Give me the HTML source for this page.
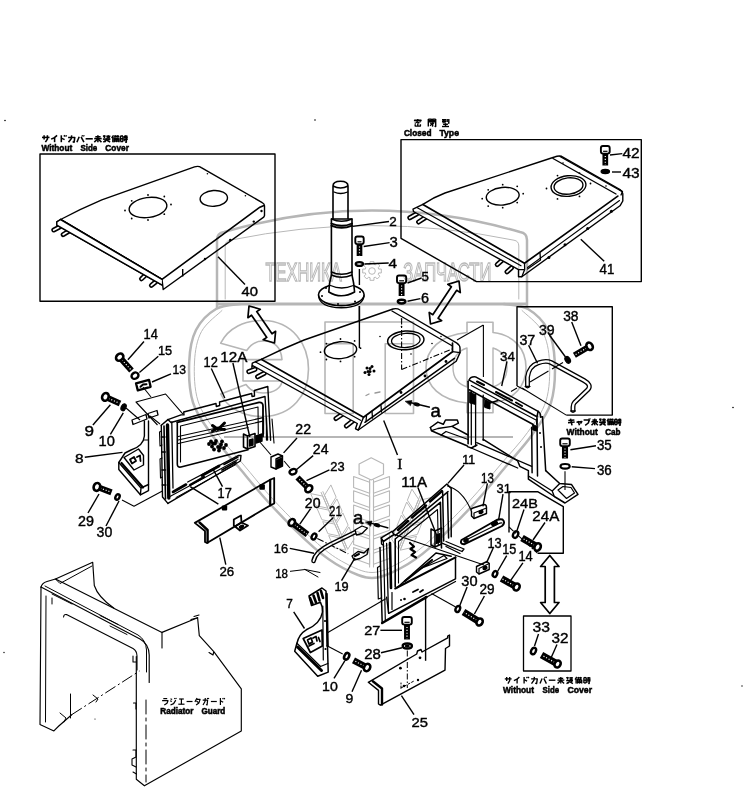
<!DOCTYPE html>
<html><head><meta charset="utf-8"><title>Parts diagram</title>
<style>html,body{margin:0;padding:0;background:#fff}svg{display:block;will-change:transform}text{font-family:"Liberation Sans",sans-serif;fill:#000}</style>
</head><body>
<svg width="743" height="788" viewBox="0 0 743 788">
<rect width="743" height="788" fill="#fff"/>
<polygon points="40.0,154.0 275.0,154.0 275.0,301.3 40.0,301.3" fill="none" stroke="#000" stroke-width="1.4" stroke-linejoin="round"/>
<polygon points="401.0,238.3 401.0,139.6 641.3,139.6 641.3,281.6 476.5,281.6" fill="none" stroke="#000" stroke-width="1.4" stroke-linejoin="round"/>
<polyline points="517.0,386.0 517.0,306.7 612.3,306.7 612.3,415.1 566.3,415.1" fill="none" stroke="#000" stroke-width="1.4" stroke-linejoin="round"/>
<polyline points="509.0,532.6 509.0,491.8 538.0,491.8 563.3,506.7 563.3,553.2 538.0,553.2" fill="none" stroke="#000" stroke-width="1.4" stroke-linejoin="round"/>
<polygon points="523.5,616.0 571.0,616.0 571.0,671.0 523.5,671.0" fill="none" stroke="#000" stroke-width="1.3" stroke-linejoin="round"/>
<line x1="59.5" y1="227.0" x2="53.8" y2="230.0" stroke="#000" stroke-width="5" stroke-linecap="round"/>
<line x1="59.5" y1="227.0" x2="53.8" y2="230.0" stroke="#fff" stroke-width="1.8" stroke-linecap="round"/>
<line x1="68.2" y1="231.6" x2="63.2" y2="234.6" stroke="#000" stroke-width="5" stroke-linecap="round"/>
<line x1="68.2" y1="231.6" x2="63.2" y2="234.6" stroke="#fff" stroke-width="1.8" stroke-linecap="round"/>
<line x1="145.0" y1="275.5" x2="141.5" y2="278.8" stroke="#000" stroke-width="5" stroke-linecap="round"/>
<line x1="145.0" y1="275.5" x2="141.5" y2="278.8" stroke="#fff" stroke-width="1.8" stroke-linecap="round"/>
<line x1="155.5" y1="282.0" x2="151.4" y2="285.4" stroke="#000" stroke-width="5" stroke-linecap="round"/>
<line x1="155.5" y1="282.0" x2="151.4" y2="285.4" stroke="#fff" stroke-width="1.8" stroke-linecap="round"/>
<path d="M60.6,219.5 Q80,209 101.8,199.8 L194.5,166.9 Q198.5,165.6 201.3,167.6 L262.2,202.6 Q264.5,203.8 264.5,205.7 L264.5,215.6 L263.7,217.1 L163.2,289.5 L162,279.4 Z" fill="#fff" stroke="#000" stroke-width="1.4" stroke-linejoin="round" stroke-linecap="round" />
<path d="M60.6,219.5 L162,279.4 L259.9,207.2 L264,205.5" fill="none" stroke="#000" stroke-width="1.6" stroke-linejoin="round" stroke-linecap="round" />
<path d="M60.6,219.5 L56.8,221.9 L56.8,225.2 L161.7,284.8" fill="none" stroke="#000" stroke-width="1.4" stroke-linejoin="round" stroke-linecap="round" />
<path d="M57,222.5 L60.6,219.5 L162,279.4 L161.7,284.8 L56.8,225.2 Z" fill="#fff" stroke="#000" stroke-width="0.1" stroke-linejoin="round" stroke-linecap="round" />
<path d="M60.6,219.5 L56.8,221.9 L56.8,225.2 L161.7,284.8" fill="none" stroke="#000" stroke-width="1.4" stroke-linejoin="round" stroke-linecap="round" />
<path d="M60.6,219.5 L162,279.4" fill="none" stroke="#000" stroke-width="1.6" stroke-linejoin="round" stroke-linecap="round" />
<line x1="182.7" y1="269.0" x2="182.7" y2="276.6" stroke="#000" stroke-width="1.4"/>
<ellipse cx="148.0" cy="207.5" rx="19.0" ry="10.0" fill="none" stroke="#000" stroke-width="1.4" transform="rotate(-8 148.0 207.5)"/>
<circle cx="171.0" cy="204.5" r="0.9" fill="#000"/>
<circle cx="164.3" cy="214.2" r="0.9" fill="#000"/>
<circle cx="148.0" cy="220.0" r="0.9" fill="#000"/>
<circle cx="131.7" cy="218.5" r="0.9" fill="#000"/>
<circle cx="125.0" cy="210.5" r="0.9" fill="#000"/>
<circle cx="131.7" cy="200.8" r="0.9" fill="#000"/>
<circle cx="148.0" cy="195.0" r="0.9" fill="#000"/>
<circle cx="164.3" cy="196.5" r="0.9" fill="#000"/>
<ellipse cx="213.8" cy="198.4" rx="13.7" ry="7.9" fill="none" stroke="#000" stroke-width="1.4" transform="rotate(-4 213.8 198.4)"/>
<circle cx="207.4" cy="173.7" r="0.8" fill="#000"/>
<circle cx="245.4" cy="195.8" r="0.8" fill="#000"/>
<circle cx="261.5" cy="211.0" r="1.2" fill="#000"/>
<circle cx="253.8" cy="221.6" r="1.2" fill="#000"/>
<circle cx="230.2" cy="239.9" r="1.2" fill="#000"/>
<circle cx="205.0" cy="259.0" r="1.2" fill="#000"/>
<line x1="218.0" y1="256.7" x2="245.0" y2="284.5" stroke="#000" stroke-width="1.4"/>
<text x="241.6" y="295.5" font-size="13.2" textLength="16.4" lengthAdjust="spacingAndGlyphs" stroke="#000" stroke-width="0.4">40</text>
<polyline points="42.0,137.4 49.5,137.4" fill="none" stroke="#000" stroke-width="1.55" stroke-linejoin="round"/>
<polyline points="44.1,135.3 44.1,139.6" fill="none" stroke="#000" stroke-width="1.55" stroke-linejoin="round"/>
<polyline points="47.4,135.3 47.4,139.1 45.4,142.2" fill="none" stroke="#000" stroke-width="1.55" stroke-linejoin="round"/>
<polyline points="57.1,135.3 54.4,137.7 51.1,139.1" fill="none" stroke="#000" stroke-width="1.55" stroke-linejoin="round"/>
<polyline points="54.6,137.6 54.6,142.2" fill="none" stroke="#000" stroke-width="1.55" stroke-linejoin="round"/>
<polyline points="61.3,135.3 61.3,142.2" fill="none" stroke="#000" stroke-width="1.55" stroke-linejoin="round"/>
<polyline points="61.3,138.1 64.6,139.6" fill="none" stroke="#000" stroke-width="1.55" stroke-linejoin="round"/>
<polyline points="64.0,135.3 64.8,136.5" fill="none" stroke="#000" stroke-width="1.55" stroke-linejoin="round"/>
<polyline points="65.8,135.3 66.5,136.5" fill="none" stroke="#000" stroke-width="1.55" stroke-linejoin="round"/>
<polyline points="68.1,137.4 74.8,137.4 74.1,142.2 72.6,141.6" fill="none" stroke="#000" stroke-width="1.55" stroke-linejoin="round"/>
<polyline points="71.7,135.3 71.2,138.8 68.5,142.2" fill="none" stroke="#000" stroke-width="1.55" stroke-linejoin="round"/>
<polyline points="79.2,136.8 76.9,142.2" fill="none" stroke="#000" stroke-width="1.55" stroke-linejoin="round"/>
<polyline points="81.1,136.8 83.9,142.2" fill="none" stroke="#000" stroke-width="1.55" stroke-linejoin="round"/>
<polyline points="82.0,135.3 82.6,136.3" fill="none" stroke="#000" stroke-width="1.55" stroke-linejoin="round"/>
<polyline points="83.5,135.3 84.1,136.3" fill="none" stroke="#000" stroke-width="1.55" stroke-linejoin="round"/>
<polyline points="85.6,138.8 92.8,138.8" fill="none" stroke="#000" stroke-width="1.55" stroke-linejoin="round"/>
<polyline points="95.3,136.8 100.6,136.8" fill="none" stroke="#000" stroke-width="1.55" stroke-linejoin="round"/>
<polyline points="94.2,138.6 101.7,138.6" fill="none" stroke="#000" stroke-width="1.55" stroke-linejoin="round"/>
<polyline points="97.9,135.3 97.9,142.2" fill="none" stroke="#000" stroke-width="1.55" stroke-linejoin="round"/>
<polyline points="97.9,138.8 94.3,142.1" fill="none" stroke="#000" stroke-width="1.55" stroke-linejoin="round"/>
<polyline points="97.9,138.8 101.5,142.1" fill="none" stroke="#000" stroke-width="1.55" stroke-linejoin="round"/>
<polyline points="102.9,136.1 105.5,136.1" fill="none" stroke="#000" stroke-width="1.55" stroke-linejoin="round"/>
<polyline points="104.4,135.3 104.4,138.2" fill="none" stroke="#000" stroke-width="1.55" stroke-linejoin="round"/>
<polyline points="106.3,136.3 110.4,136.3" fill="none" stroke="#000" stroke-width="1.55" stroke-linejoin="round"/>
<polyline points="108.3,135.3 108.3,137.9" fill="none" stroke="#000" stroke-width="1.55" stroke-linejoin="round"/>
<polyline points="106.6,137.9 110.0,137.9" fill="none" stroke="#000" stroke-width="1.55" stroke-linejoin="round"/>
<polyline points="102.9,139.1 110.4,139.1" fill="none" stroke="#000" stroke-width="1.55" stroke-linejoin="round"/>
<polyline points="106.6,138.4 106.6,140.1" fill="none" stroke="#000" stroke-width="1.55" stroke-linejoin="round"/>
<polyline points="106.6,140.1 103.3,142.2" fill="none" stroke="#000" stroke-width="1.55" stroke-linejoin="round"/>
<polyline points="105.1,140.5 105.1,142.2" fill="none" stroke="#000" stroke-width="1.55" stroke-linejoin="round"/>
<polyline points="106.6,140.1 110.2,142.2" fill="none" stroke="#000" stroke-width="1.55" stroke-linejoin="round"/>
<polyline points="108.1,140.1 109.6,139.6" fill="none" stroke="#000" stroke-width="1.55" stroke-linejoin="round"/>
<polyline points="113.5,135.3 111.7,138.1" fill="none" stroke="#000" stroke-width="1.55" stroke-linejoin="round"/>
<polyline points="112.9,137.0 112.9,142.2" fill="none" stroke="#000" stroke-width="1.55" stroke-linejoin="round"/>
<polyline points="114.2,136.3 119.1,136.3" fill="none" stroke="#000" stroke-width="1.55" stroke-linejoin="round"/>
<polyline points="115.3,135.3 115.3,137.4" fill="none" stroke="#000" stroke-width="1.55" stroke-linejoin="round"/>
<polyline points="117.7,135.3 117.7,137.4" fill="none" stroke="#000" stroke-width="1.55" stroke-linejoin="round"/>
<polyline points="114.2,137.4 114.2,142.2" fill="none" stroke="#000" stroke-width="1.55" stroke-linejoin="round"/>
<polyline points="114.2,138.2 118.9,138.2" fill="none" stroke="#000" stroke-width="1.55" stroke-linejoin="round"/>
<polyline points="118.9,138.2 118.9,142.2" fill="none" stroke="#000" stroke-width="1.55" stroke-linejoin="round"/>
<polyline points="114.2,139.6 118.9,139.6" fill="none" stroke="#000" stroke-width="1.55" stroke-linejoin="round"/>
<polyline points="114.2,141.0 118.9,141.0" fill="none" stroke="#000" stroke-width="1.55" stroke-linejoin="round"/>
<polyline points="116.5,138.2 116.5,142.2" fill="none" stroke="#000" stroke-width="1.55" stroke-linejoin="round"/>
<polyline points="120.4,136.0 120.4,141.5" fill="none" stroke="#000" stroke-width="1.55" stroke-linejoin="round"/>
<polyline points="120.4,136.0 123.0,136.0" fill="none" stroke="#000" stroke-width="1.55" stroke-linejoin="round"/>
<polyline points="123.0,136.0 123.0,141.5" fill="none" stroke="#000" stroke-width="1.55" stroke-linejoin="round"/>
<polyline points="120.4,138.8 123.0,138.8" fill="none" stroke="#000" stroke-width="1.55" stroke-linejoin="round"/>
<polyline points="120.4,141.5 123.0,141.5" fill="none" stroke="#000" stroke-width="1.55" stroke-linejoin="round"/>
<polyline points="124.0,136.3 127.6,136.3" fill="none" stroke="#000" stroke-width="1.55" stroke-linejoin="round"/>
<polyline points="125.8,135.3 125.8,137.7" fill="none" stroke="#000" stroke-width="1.55" stroke-linejoin="round"/>
<polyline points="123.7,137.7 127.8,137.7" fill="none" stroke="#000" stroke-width="1.55" stroke-linejoin="round"/>
<polyline points="123.7,139.3 127.8,139.3" fill="none" stroke="#000" stroke-width="1.55" stroke-linejoin="round"/>
<polyline points="126.3,137.7 126.3,142.2 125.2,141.9" fill="none" stroke="#000" stroke-width="1.55" stroke-linejoin="round"/>
<polyline points="124.4,140.1 125.2,141.0" fill="none" stroke="#000" stroke-width="1.55" stroke-linejoin="round"/>
<text x="41.4" y="150.9" font-size="9.6" font-weight="bold" textLength="30.9" lengthAdjust="spacingAndGlyphs" stroke="#000" stroke-width="0.55">Without</text>
<text x="80.4" y="150.9" font-size="9.6" font-weight="bold" textLength="16.8" lengthAdjust="spacingAndGlyphs" stroke="#000" stroke-width="0.55">Side</text>
<text x="105.3" y="150.9" font-size="9.6" font-weight="bold" textLength="23.6" lengthAdjust="spacingAndGlyphs" stroke="#000" stroke-width="0.55">Cover</text>
<line x1="417.0" y1="213.8" x2="409.8" y2="217.8" stroke="#000" stroke-width="5" stroke-linecap="round"/>
<line x1="417.0" y1="213.8" x2="409.8" y2="217.8" stroke="#fff" stroke-width="1.8" stroke-linecap="round"/>
<line x1="425.0" y1="217.8" x2="418.6" y2="222.0" stroke="#000" stroke-width="5" stroke-linecap="round"/>
<line x1="425.0" y1="217.8" x2="418.6" y2="222.0" stroke="#fff" stroke-width="1.8" stroke-linecap="round"/>
<line x1="502.0" y1="260.4" x2="497.2" y2="264.6" stroke="#000" stroke-width="5" stroke-linecap="round"/>
<line x1="502.0" y1="260.4" x2="497.2" y2="264.6" stroke="#fff" stroke-width="1.8" stroke-linecap="round"/>
<line x1="511.5" y1="267.8" x2="507.0" y2="271.8" stroke="#000" stroke-width="5" stroke-linecap="round"/>
<line x1="511.5" y1="267.8" x2="507.0" y2="271.8" stroke="#fff" stroke-width="1.8" stroke-linecap="round"/>
<path d="M422.9,204.4 Q433,197.5 445,193 L554.5,157 Q558.5,155.5 561.5,156.3 L620,189.5 Q623,191.5 622.8,194 L622.8,201 L620,205.8 L521.8,276.7 L518.5,276.7 L518.5,269.6 L413.5,211.5 L413,209.1 Z" fill="#fff" stroke="#000" stroke-width="1.4" stroke-linejoin="round" stroke-linecap="round" />
<path d="M422.9,204.4 L524.5,263.3 L617.8,196.1" fill="none" stroke="#000" stroke-width="1.7" stroke-linejoin="round" stroke-linecap="round" />
<path d="M417.3,207.7 L521,265.8" fill="none" stroke="#000" stroke-width="1.2" stroke-linejoin="round" stroke-linecap="round" />
<path d="M524.5,263.3 L524.7,269.6 L521.8,276.7 M518.5,269.6 L524.7,269.6" fill="none" stroke="#000" stroke-width="1.3" stroke-linejoin="round" stroke-linecap="round" />
<path d="M527.5,267.5 L619.5,200.5" fill="none" stroke="#000" stroke-width="1.1" stroke-linejoin="round" stroke-linecap="round" />
<path d="M553,158.5 L616,194 M560,156.5 L622,191.5" fill="none" stroke="#000" stroke-width="1.4" stroke-linejoin="round" stroke-linecap="round" />
<path d="M540,253 L540.5,260 L527.5,269 M621,195 L622.5,191.5 L619,189.5" fill="none" stroke="#000" stroke-width="1.3" stroke-linejoin="round" stroke-linecap="round" />
<ellipse cx="502.7" cy="196.2" rx="16.5" ry="8.8" fill="none" stroke="#000" stroke-width="1.4" transform="rotate(-6 502.7 196.2)"/>
<circle cx="523.2" cy="193.7" r="0.9" fill="#000"/>
<circle cx="517.2" cy="202.6" r="0.9" fill="#000"/>
<circle cx="502.7" cy="207.7" r="0.9" fill="#000"/>
<circle cx="488.2" cy="206.1" r="0.9" fill="#000"/>
<circle cx="482.2" cy="198.7" r="0.9" fill="#000"/>
<circle cx="488.2" cy="189.8" r="0.9" fill="#000"/>
<circle cx="502.7" cy="184.7" r="0.9" fill="#000"/>
<circle cx="517.2" cy="186.3" r="0.9" fill="#000"/>
<ellipse cx="568.5" cy="186.0" rx="17.5" ry="10.3" fill="none" stroke="#000" stroke-width="1.4" transform="rotate(-6 568.5 186.0)"/>
<ellipse cx="568.5" cy="186.0" rx="14.5" ry="8.2" fill="none" stroke="#000" stroke-width="1.4" transform="rotate(-6 568.5 186.0)"/>
<circle cx="590.5" cy="183.5" r="0.9" fill="#000"/>
<circle cx="579.5" cy="196.4" r="0.9" fill="#000"/>
<circle cx="557.5" cy="198.9" r="0.9" fill="#000"/>
<circle cx="546.5" cy="188.5" r="0.9" fill="#000"/>
<circle cx="557.5" cy="175.6" r="0.9" fill="#000"/>
<circle cx="579.5" cy="173.1" r="0.9" fill="#000"/>
<circle cx="563.0" cy="163.0" r="0.8" fill="#000"/>
<circle cx="606.0" cy="186.0" r="0.8" fill="#000"/>
<circle cx="548.9" cy="257.5" r="1.5" fill="#000"/>
<circle cx="565.0" cy="244.8" r="1.5" fill="#000"/>
<circle cx="587.7" cy="228.6" r="1.5" fill="#000"/>
<circle cx="611.4" cy="211.2" r="1.5" fill="#000"/>
<line x1="580.8" y1="239.3" x2="604.2" y2="261.3" stroke="#000" stroke-width="1.4"/>
<text x="599.6" y="273.5" font-size="14.6" textLength="14.8" lengthAdjust="spacingAndGlyphs" stroke="#000" stroke-width="0.4">41</text>
<line x1="605.3" y1="148.5" x2="605.3" y2="165.5" stroke="#000" stroke-width="5.7"/>
<line x1="605.3" y1="153.0" x2="605.3" y2="164.7" stroke="#fff" stroke-width="1.2" stroke-dasharray="1.1 1.8"/>
<rect x="600.9" y="146.0" width="8.8" height="7.6" rx="2" fill="#fff" stroke="#000" stroke-width="1.9"/>
<line x1="603.1" y1="151.3" x2="607.5" y2="151.3" stroke="#000" stroke-width="1.2"/>
<ellipse cx="605.3" cy="171.5" rx="4.2" ry="2.2" fill="#000" stroke="#000" stroke-width="1.2"/>
<line x1="610.0" y1="155.0" x2="622.3" y2="153.6" stroke="#000" stroke-width="1.4"/>
<line x1="612.0" y1="172.0" x2="621.0" y2="172.0" stroke="#000" stroke-width="1.4"/>
<text x="622.4" y="157.7" font-size="14.9" textLength="17.2" lengthAdjust="spacingAndGlyphs" stroke="#000" stroke-width="0.4">42</text>
<text x="622.4" y="178.0" font-size="14.6" textLength="17.2" lengthAdjust="spacingAndGlyphs" stroke="#000" stroke-width="0.4">43</text>
<polyline points="417.8,119.1 417.8,120.2" fill="none" stroke="#000" stroke-width="1.4" stroke-linejoin="round"/>
<polyline points="414.6,121.3 414.6,120.2 421.0,120.2 421.0,121.3" fill="none" stroke="#000" stroke-width="1.4" stroke-linejoin="round"/>
<polyline points="415.9,121.3 416.8,122.8" fill="none" stroke="#000" stroke-width="1.4" stroke-linejoin="round"/>
<polyline points="417.8,120.9 417.8,122.8 419.4,122.8" fill="none" stroke="#000" stroke-width="1.4" stroke-linejoin="round"/>
<polyline points="419.7,121.2 420.4,122.4" fill="none" stroke="#000" stroke-width="1.4" stroke-linejoin="round"/>
<polyline points="415.6,122.8 414.9,123.5" fill="none" stroke="#000" stroke-width="1.4" stroke-linejoin="round"/>
<polyline points="415.2,124.3 415.2,126.1 420.4,126.1 420.4,124.3" fill="none" stroke="#000" stroke-width="1.4" stroke-linejoin="round"/>
<polyline points="417.8,123.5 417.8,126.1" fill="none" stroke="#000" stroke-width="1.4" stroke-linejoin="round"/>
<polyline points="428.3,119.1 428.3,126.5" fill="none" stroke="#000" stroke-width="1.4" stroke-linejoin="round"/>
<polyline points="428.3,119.1 431.3,119.1 431.3,121.7 428.3,121.7" fill="none" stroke="#000" stroke-width="1.4" stroke-linejoin="round"/>
<polyline points="428.3,120.4 431.3,120.4" fill="none" stroke="#000" stroke-width="1.4" stroke-linejoin="round"/>
<polyline points="435.7,119.1 435.7,126.5 434.6,126.1" fill="none" stroke="#000" stroke-width="1.4" stroke-linejoin="round"/>
<polyline points="435.7,119.1 432.7,119.1 432.7,121.7 435.7,121.7" fill="none" stroke="#000" stroke-width="1.4" stroke-linejoin="round"/>
<polyline points="432.7,120.4 435.7,120.4" fill="none" stroke="#000" stroke-width="1.4" stroke-linejoin="round"/>
<polyline points="430.1,123.2 434.2,123.2" fill="none" stroke="#000" stroke-width="1.4" stroke-linejoin="round"/>
<polyline points="432.7,122.2 432.7,126.1 432.0,125.8" fill="none" stroke="#000" stroke-width="1.4" stroke-linejoin="round"/>
<polyline points="432.6,123.4 430.1,125.8" fill="none" stroke="#000" stroke-width="1.4" stroke-linejoin="round"/>
<polyline points="442.0,119.7 446.2,119.7" fill="none" stroke="#000" stroke-width="1.4" stroke-linejoin="round"/>
<polyline points="442.0,121.3 446.3,121.3" fill="none" stroke="#000" stroke-width="1.4" stroke-linejoin="round"/>
<polyline points="443.4,119.7 443.1,123.2" fill="none" stroke="#000" stroke-width="1.4" stroke-linejoin="round"/>
<polyline points="444.9,119.7 444.9,123.2" fill="none" stroke="#000" stroke-width="1.4" stroke-linejoin="round"/>
<polyline points="447.2,119.1 447.2,122.1" fill="none" stroke="#000" stroke-width="1.4" stroke-linejoin="round"/>
<polyline points="448.8,119.1 448.8,123.2 447.9,122.8" fill="none" stroke="#000" stroke-width="1.4" stroke-linejoin="round"/>
<polyline points="443.1,124.3 447.9,124.3" fill="none" stroke="#000" stroke-width="1.4" stroke-linejoin="round"/>
<polyline points="445.5,123.2 445.5,126.5" fill="none" stroke="#000" stroke-width="1.4" stroke-linejoin="round"/>
<polyline points="442.0,126.5 449.0,126.5" fill="none" stroke="#000" stroke-width="1.4" stroke-linejoin="round"/>
<text x="403.9" y="135.8" font-size="9.6" font-weight="bold" textLength="27.6" lengthAdjust="spacingAndGlyphs" stroke="#000" stroke-width="0.55">Closed</text>
<text x="439.4" y="135.8" font-size="9.6" font-weight="bold" textLength="19.6" lengthAdjust="spacingAndGlyphs" stroke="#000" stroke-width="0.55">Type</text>
<ellipse cx="341.3" cy="294.8" rx="22.8" ry="10.8" fill="none" stroke="#000" stroke-width="1.6"/>
<path d="M318.6,296 Q320,307.5 341.3,307.8 Q362.5,307.5 364,296" fill="none" stroke="#000" stroke-width="1.5" stroke-linejoin="round" stroke-linecap="round" />
<path d="M333,186 Q333,181.3 340.5,181.3 Q348,181.3 348,186 L348,219 M333,186 L333,219 M333,186 Q340.5,190 348,186" fill="#fff" stroke="#000" stroke-width="1.6" stroke-linejoin="round" stroke-linecap="round" />
<path d="M334,192 Q340.5,195 347.6,192" fill="none" stroke="#000" stroke-width="1.3" stroke-linejoin="round" stroke-linecap="round" />
<path d="M331.4,219 L331.4,275 Q329,283 328.8,292 Q341,299.5 354.6,292 Q354,283 352,275 L352,219 Z" fill="#fff" stroke="#000" stroke-width="1.6" stroke-linejoin="round" stroke-linecap="round" />
<path d="M331.4,219 Q341.5,223.5 352,219" fill="none" stroke="#000" stroke-width="1.4" stroke-linejoin="round" stroke-linecap="round" />
<path d="M331.4,223.5 Q341.5,228 352,223.5 M331.4,225.6 Q341.5,230.2 352,225.6" fill="none" stroke="#000" stroke-width="1.9" stroke-linejoin="round" stroke-linecap="round" />
<path d="M331.4,272 Q341.5,276.5 352,272 M331.4,275 Q341.5,279.5 352,275" fill="none" stroke="#000" stroke-width="1.5" stroke-linejoin="round" stroke-linecap="round" />
<path d="M330.5,285.5 Q341.5,290.5 353.3,285.5" fill="none" stroke="#000" stroke-width="1.3" stroke-linejoin="round" stroke-linecap="round" />
<circle cx="322.0" cy="296.0" r="1" fill="#000"/>
<circle cx="338.0" cy="304.0" r="1" fill="#000"/>
<circle cx="355.0" cy="301.5" r="1" fill="#000"/>
<circle cx="360.0" cy="292.0" r="1" fill="#000"/>
<circle cx="326.0" cy="288.0" r="1" fill="#000"/>
<line x1="352.5" y1="226.4" x2="389.0" y2="221.5" stroke="#000" stroke-width="1.4"/>
<text x="389.2" y="226.4" font-size="13.5" textLength="7.5" lengthAdjust="spacingAndGlyphs" stroke="#000" stroke-width="0.4">2</text>
<line x1="359.5" y1="239.0" x2="359.5" y2="256.0" stroke="#000" stroke-width="5.7"/>
<line x1="359.5" y1="243.5" x2="359.5" y2="255.2" stroke="#fff" stroke-width="1.2" stroke-dasharray="1.1 1.8"/>
<rect x="355.3" y="236.5" width="8.4" height="7.6" rx="2" fill="#fff" stroke="#000" stroke-width="1.9"/>
<line x1="357.5" y1="241.8" x2="361.5" y2="241.8" stroke="#000" stroke-width="1.2"/>
<ellipse cx="359.4" cy="264.0" rx="3.6" ry="1.9" fill="#fff" stroke="#000" stroke-width="2.4"/>
<line x1="363.7" y1="246.5" x2="389.6" y2="242.6" stroke="#000" stroke-width="1.4"/>
<text x="389.6" y="247.0" font-size="13.9" textLength="8.3" lengthAdjust="spacingAndGlyphs" stroke="#000" stroke-width="0.4">3</text>
<line x1="364.4" y1="264.0" x2="388.7" y2="263.0" stroke="#000" stroke-width="1.4"/>
<text x="388.6" y="268.3" font-size="13.3" textLength="8.5" lengthAdjust="spacingAndGlyphs" stroke="#000" stroke-width="0.4">4</text>
<line x1="359.4" y1="269.0" x2="359.4" y2="285.0" stroke="#000" stroke-width="1.4"/>
<line x1="359.4" y1="306.0" x2="359.4" y2="348.0" stroke="#000" stroke-width="1.4"/>
<line x1="401.6" y1="278.0" x2="401.6" y2="296.0" stroke="#000" stroke-width="5.9"/>
<line x1="401.6" y1="282.5" x2="401.6" y2="295.2" stroke="#fff" stroke-width="1.2" stroke-dasharray="1.1 1.8"/>
<rect x="397.0" y="275.5" width="9.2" height="7.6" rx="2" fill="#fff" stroke="#000" stroke-width="1.9"/>
<line x1="399.2" y1="280.8" x2="404.0" y2="280.8" stroke="#000" stroke-width="1.2"/>
<ellipse cx="401.6" cy="301.6" rx="3.8" ry="1.9" fill="#fff" stroke="#000" stroke-width="2.4"/>
<line x1="407.5" y1="283.0" x2="421.5" y2="278.0" stroke="#000" stroke-width="1.4"/>
<text x="421.6" y="281.4" font-size="13.5" textLength="7.4" lengthAdjust="spacingAndGlyphs" stroke="#000" stroke-width="0.4">5</text>
<line x1="407.5" y1="301.2" x2="420.4" y2="298.6" stroke="#000" stroke-width="1.4"/>
<text x="421.1" y="303.0" font-size="13.9" textLength="8.0" lengthAdjust="spacingAndGlyphs" stroke="#000" stroke-width="0.4">6</text>
<line x1="255.0" y1="369.3" x2="248.8" y2="371.7" stroke="#000" stroke-width="5" stroke-linecap="round"/>
<line x1="255.0" y1="369.3" x2="248.8" y2="371.7" stroke="#fff" stroke-width="1.8" stroke-linecap="round"/>
<line x1="264.3" y1="373.2" x2="257.6" y2="376.8" stroke="#000" stroke-width="5" stroke-linecap="round"/>
<line x1="264.3" y1="373.2" x2="257.6" y2="376.8" stroke="#fff" stroke-width="1.8" stroke-linecap="round"/>
<line x1="344.0" y1="413.2" x2="336.0" y2="418.5" stroke="#000" stroke-width="5" stroke-linecap="round"/>
<line x1="344.0" y1="413.2" x2="336.0" y2="418.5" stroke="#fff" stroke-width="1.8" stroke-linecap="round"/>
<line x1="354.3" y1="419.8" x2="346.3" y2="426.0" stroke="#000" stroke-width="5" stroke-linecap="round"/>
<line x1="354.3" y1="419.8" x2="346.3" y2="426.0" stroke="#fff" stroke-width="1.8" stroke-linecap="round"/>
<path d="M261.2,359.3 Q283,348.5 304.1,340 L393,309 Q397,308 400,310 L456.5,342.8 Q460,345 460,348 L460,352.6 L456.2,361.2 L358.3,430 L355.5,428.8 L357.3,423.5 L252.7,365.6 L251.8,367.3 L252.3,363.1 Z" fill="#fff" stroke="#000" stroke-width="1.4" stroke-linejoin="round" stroke-linecap="round" />
<path d="M261.2,359.3 L363.5,417.3 L452.5,351.7 L452.5,343" fill="none" stroke="#000" stroke-width="1.7" stroke-linejoin="round" stroke-linecap="round" />
<path d="M363.5,417.3 L358.3,430" fill="none" stroke="#000" stroke-width="1.4" stroke-linejoin="round" stroke-linecap="round" />
<path d="M255.6,362.1 L360.5,420.3" fill="none" stroke="#000" stroke-width="1.2" stroke-linejoin="round" stroke-linecap="round" />
<path d="M364.9,422.3 L454.4,358.3" fill="none" stroke="#000" stroke-width="1.5" stroke-linejoin="round" stroke-linecap="round" />
<path d="M392,311 L452.5,346" fill="none" stroke="#000" stroke-width="1.4" stroke-linejoin="round" stroke-linecap="round" />
<line x1="359.4" y1="306.0" x2="359.4" y2="348.0" stroke="#000" stroke-width="1.4"/>
<path d="M452.5,351.7 L460,352.6" fill="none" stroke="#000" stroke-width="1.2" stroke-linejoin="round" stroke-linecap="round" />
<path d="M381,405.5 L381.5,412 M372,411.5 L372.5,418 M366.5,416 L366,421.5" fill="none" stroke="#000" stroke-width="1.3" stroke-linejoin="round" stroke-linecap="round" />
<circle cx="401.0" cy="392.5" r="1.4" fill="#000"/>
<circle cx="425.0" cy="376.0" r="1.4" fill="#000"/>
<circle cx="446.0" cy="361.5" r="1.4" fill="#000"/>
<ellipse cx="340.5" cy="350.2" rx="16.2" ry="8.5" fill="none" stroke="#000" stroke-width="1.4" transform="rotate(-5 340.5 350.2)"/>
<circle cx="360.5" cy="348.2" r="0.9" fill="#000"/>
<circle cx="354.6" cy="356.7" r="0.9" fill="#000"/>
<circle cx="340.5" cy="361.4" r="0.9" fill="#000"/>
<circle cx="326.4" cy="359.5" r="0.9" fill="#000"/>
<circle cx="320.5" cy="352.2" r="0.9" fill="#000"/>
<circle cx="326.4" cy="343.7" r="0.9" fill="#000"/>
<circle cx="340.5" cy="339.0" r="0.9" fill="#000"/>
<circle cx="354.6" cy="340.9" r="0.9" fill="#000"/>
<ellipse cx="405.8" cy="340.4" rx="18.2" ry="9.4" fill="none" stroke="#000" stroke-width="1.5" transform="rotate(-4 405.8 340.4)"/>
<ellipse cx="405.8" cy="340.4" rx="14.3" ry="7.1" fill="none" stroke="#000" stroke-width="1.3" transform="rotate(-4 405.8 340.4)"/>
<circle cx="380.0" cy="336.5" r="0.8" fill="#000"/>
<circle cx="401.5" cy="319.0" r="0.8" fill="#000"/>
<circle cx="401.5" cy="326.5" r="0.8" fill="#000"/>
<circle cx="432.0" cy="343.5" r="0.8" fill="#000"/>
<circle cx="441.0" cy="336.5" r="0.8" fill="#000"/>
<circle cx="411.0" cy="354.0" r="0.8" fill="#000"/>
<circle cx="367.0" cy="368.0" r="1.5" fill="#000"/>
<circle cx="370.0" cy="371.5" r="1.5" fill="#000"/>
<circle cx="365.0" cy="372.5" r="1.5" fill="#000"/>
<circle cx="372.0" cy="366.5" r="1.5" fill="#000"/>
<circle cx="369.0" cy="374.5" r="1.5" fill="#000"/>
<circle cx="374.0" cy="371.0" r="1.5" fill="#000"/>
<circle cx="370.0" cy="368.5" r="1.5" fill="#000"/>
<circle cx="368.0" cy="371.5" r="1.5" fill="#000"/>
<path d="M366,395.5 L369,394 M375,393 L380,392" fill="none" stroke="#999" stroke-width="1.3" stroke-linejoin="round" stroke-linecap="round" />
<line x1="401.6" y1="318.5" x2="401.6" y2="369.6" stroke="#000" stroke-width="1.1" stroke-dasharray="6 2 1.5 2"/>
<line x1="401.6" y1="369.6" x2="452.5" y2="348.8" stroke="#000" stroke-width="1.1" stroke-dasharray="6 2 1.5 2"/>
<line x1="457.0" y1="340.0" x2="483.4" y2="325.0" stroke="#000" stroke-width="1.1"/>
<line x1="483.4" y1="325.0" x2="483.4" y2="377.0" stroke="#000" stroke-width="1.1"/>
<line x1="383.7" y1="420.4" x2="397.5" y2="455.0" stroke="#000" stroke-width="1.4"/>
<text x="397.3" y="469" font-size="15.5" style="font-family:'Liberation Serif',serif" stroke="#000" stroke-width="0.4">I</text>
<text x="430.5" y="416.5" font-size="18.5" stroke="#000" stroke-width="0.5">a</text>
<line x1="429.9" y1="407.3" x2="409.0" y2="402.2" stroke="#000" stroke-width="1.4"/>
<ellipse cx="416.7" cy="404.4" rx="2.6" ry="1.3" fill="#000" stroke="#000" stroke-width="1.4" transform="rotate(14 416.7 404.4)"/>
<path d="M405.4,401.2 L412,400.6 L410.6,405.4 Z" fill="#000" stroke="#000" stroke-width="0.6" stroke-linejoin="round" stroke-linecap="round" />
<polygon points="249.0,306.0 247.9,317.7 251.5,315.2 266.8,337.4 263.2,339.8 274.5,343.0 275.6,331.3 272.0,333.8 256.7,311.6 260.3,309.2" fill="#fff" stroke="#000" stroke-width="1.7" stroke-linejoin="round"/>
<polygon points="459.0,281.0 447.8,284.4 451.4,286.7 432.8,314.7 429.2,312.4 430.5,324.0 441.7,320.6 438.1,318.3 456.7,290.3 460.3,292.6" fill="#fff" stroke="#000" stroke-width="1.7" stroke-linejoin="round"/>
<polygon points="549.8,555.5 540.6,566.5 545.2,566.5 545.2,602.5 540.6,602.5 549.8,613.5 559.0,602.5 554.4,602.5 554.4,566.5 559.0,566.5" fill="#fff" stroke="#000" stroke-width="1.7" stroke-linejoin="round"/>
<line x1="119.0" y1="356.5" x2="131.5" y2="370.5" stroke="#000" stroke-width="6.1"/>
<line x1="122.0" y1="359.9" x2="131.0" y2="369.9" stroke="#fff" stroke-width="1.2" stroke-dasharray="1.1 1.8"/>
<ellipse cx="119.7" cy="357.2" rx="3.2" ry="4.0" fill="#fff" stroke="#000" stroke-width="2.6" transform="rotate(48.23970029610213 119.7 357.2)"/>
<ellipse cx="135.0" cy="375.7" rx="3.6" ry="3.0" fill="#fff" stroke="#000" stroke-width="2.4" transform="rotate(-30 135.0 375.7)"/>
<path d="M136,383.3 L149,379.8 L150.6,386.8 L137.8,390.4 Z" fill="none" stroke="#000" stroke-width="2.3" stroke-linejoin="round" stroke-linecap="round" />
<path d="M140.5,386.8 L143,384.6 L146.5,384.2" fill="none" stroke="#000" stroke-width="2" stroke-linejoin="round" stroke-linecap="round" />
<line x1="144.0" y1="341.5" x2="127.9" y2="359.8" stroke="#000" stroke-width="1.4"/>
<text x="143.6" y="339.4" font-size="13.9" textLength="14.3" lengthAdjust="spacingAndGlyphs" stroke="#000" stroke-width="0.4">14</text>
<line x1="158.3" y1="356.3" x2="139.4" y2="372.5" stroke="#000" stroke-width="1.4"/>
<text x="157.9" y="355.4" font-size="13.6" textLength="14.2" lengthAdjust="spacingAndGlyphs" stroke="#000" stroke-width="0.4">15</text>
<line x1="171.0" y1="373.8" x2="152.0" y2="382.0" stroke="#000" stroke-width="1.4"/>
<text x="172.6" y="373.6" font-size="13.3" textLength="13.5" lengthAdjust="spacingAndGlyphs" stroke="#000" stroke-width="0.4">13</text>
<line x1="104.5" y1="396.5" x2="120.0" y2="403.5" stroke="#000" stroke-width="6.1"/>
<line x1="108.6" y1="398.4" x2="119.3" y2="403.2" stroke="#fff" stroke-width="1.2" stroke-dasharray="1.1 1.8"/>
<ellipse cx="105.4" cy="396.9" rx="3.2" ry="4.0" fill="#fff" stroke="#000" stroke-width="2.6" transform="rotate(24.30454926593672 105.4 396.9)"/>
<ellipse cx="123.6" cy="407.3" rx="2.3" ry="3.6" fill="#000" stroke="#000" stroke-width="1.2" transform="rotate(25 123.6 407.3)"/>
<line x1="92.9" y1="425.0" x2="110.4" y2="404.8" stroke="#000" stroke-width="1.4"/>
<text x="84.6" y="436.0" font-size="13.9" textLength="9.5" lengthAdjust="spacingAndGlyphs" stroke="#000" stroke-width="0.4">9</text>
<line x1="110.4" y1="434.4" x2="123.3" y2="412.9" stroke="#000" stroke-width="1.4"/>
<text x="98.6" y="446.0" font-size="14.3" textLength="16.3" lengthAdjust="spacingAndGlyphs" stroke="#000" stroke-width="0.4">10</text>
<line x1="84.8" y1="457.3" x2="122.5" y2="452.4" stroke="#000" stroke-width="1.4"/>
<text x="75.0" y="462.7" font-size="13.5" textLength="8.6" lengthAdjust="spacingAndGlyphs" stroke="#000" stroke-width="0.4">8</text>
<line x1="96.0" y1="486.5" x2="111.5" y2="492.3" stroke="#000" stroke-width="6.1"/>
<line x1="100.2" y1="488.1" x2="110.8" y2="492.0" stroke="#fff" stroke-width="1.2" stroke-dasharray="1.1 1.8"/>
<ellipse cx="96.9" cy="486.9" rx="3.2" ry="4.0" fill="#fff" stroke="#000" stroke-width="2.6" transform="rotate(20.515524873076497 96.9 486.9)"/>
<ellipse cx="117.5" cy="497.0" rx="2.0" ry="2.8" fill="#fff" stroke="#000" stroke-width="2.4" transform="rotate(25 117.5 497.0)"/>
<line x1="88.0" y1="513.0" x2="99.0" y2="494.0" stroke="#000" stroke-width="1.4"/>
<text x="78.1" y="525.8" font-size="14.3" textLength="15.9" lengthAdjust="spacingAndGlyphs" stroke="#000" stroke-width="0.4">29</text>
<line x1="106.0" y1="526.0" x2="119.0" y2="501.0" stroke="#000" stroke-width="1.4"/>
<text x="96.6" y="537.0" font-size="14.6" textLength="15.7" lengthAdjust="spacingAndGlyphs" stroke="#000" stroke-width="0.4">30</text>
<polyline points="157.5,425.0 136.0,402.0 165.6,394.0 183.0,414.2" fill="none" stroke="#000" stroke-width="1.1" stroke-linejoin="round"/>
<line x1="143.0" y1="387.0" x2="151.0" y2="397.0" stroke="#000" stroke-width="1.1"/>
<path d="M132,420 L146,414.5 L147,419 L133,424.5 Z M148,413.5 L157,410.5 L158,415 L149,418 Z" fill="none" stroke="#000" stroke-width="1.3" stroke-linejoin="round" stroke-linecap="round" />
<line x1="126.0" y1="408.0" x2="140.0" y2="420.0" stroke="#000" stroke-width="1.1"/>
<line x1="150.0" y1="416.0" x2="160.0" y2="424.0" stroke="#000" stroke-width="1.1"/>
<path d="M144.4,421 L144.4,436 Q143.5,446 131,450 L125,453 L118.8,462.5 L118.8,469.5 L140.4,494.8 L148.5,490.7 L148.5,421" fill="none" stroke="#000" stroke-width="1.4" stroke-linejoin="round" stroke-linecap="round" />
<path d="M118.8,462.5 L141,488 L148.5,484.5 M141,488 L140.4,494.8" fill="none" stroke="#000" stroke-width="1.4" stroke-linejoin="round" stroke-linecap="round" />
<path d="M121.5,463 L143,487.5" fill="none" stroke="#000" stroke-width="2.2" stroke-linejoin="round" stroke-linecap="round" />
<path d="M124,457.5 L138.5,449 L143.5,455.5 L143.5,465 L134,470 Z" fill="none" stroke="#000" stroke-width="1.4" stroke-linejoin="round" stroke-linecap="round" />
<path d="M130,459.5 L134,457 L136,461 L132,463.5 Z M137,457 L140,455.5 L140.5,461" fill="none" stroke="#000" stroke-width="1.8" stroke-linejoin="round" stroke-linecap="round" />
<path d="M144.4,440 L148.5,440" fill="none" stroke="#000" stroke-width="1" stroke-linejoin="round" stroke-linecap="round" />
<polyline points="122.0,500.0 134.0,506.2 162.4,491.0" fill="none" stroke="#000" stroke-width="1.1" stroke-linejoin="round"/>
<path d="M161.3,425.2 L167.9,419.6 L181,414.9 L184,414.9 L183.7,412 L216,403.5 L216.3,406.5 L219.7,405.5 L219.5,402 L251.7,393.5 L252,396.5 L254.5,396 L254.3,390.5 L267.8,386.5 L270.6,440.3" fill="none" stroke="#000" stroke-width="1.4" stroke-linejoin="round" stroke-linecap="round" />
<path d="M161.3,425.2 L162.5,497 L167.9,503.4" fill="none" stroke="#000" stroke-width="1.4" stroke-linejoin="round" stroke-linecap="round" />
<path d="M164,426 L165.5,499" fill="none" stroke="#000" stroke-width="1.6" stroke-linejoin="round" stroke-linecap="round" />
<path d="M167.5,425 L168.8,498" fill="none" stroke="#000" stroke-width="3.4" stroke-linejoin="round" stroke-linecap="round" />
<path d="M171.8,422 L173,488" fill="none" stroke="#000" stroke-width="1.3" stroke-linejoin="round" stroke-linecap="round" />
<path d="M167.9,419.6 L171,422.5 L265,396.5 L267.5,440" fill="none" stroke="#000" stroke-width="1.4" stroke-linejoin="round" stroke-linecap="round" />
<path d="M177.3,422.4 L259,402.4 Q263,402 263,406 L263,436.5" fill="none" stroke="#000" stroke-width="1.8" stroke-linejoin="round" stroke-linecap="round" />
<path d="M177.3,422.4 L177.3,464 Q177.3,467.8 181,467 L248,449.7" fill="none" stroke="#000" stroke-width="1.6" stroke-linejoin="round" stroke-linecap="round" />
<path d="M180.5,426 L258,407 L258.3,434 M180.5,426 L180.5,462" fill="none" stroke="#000" stroke-width="1.1" stroke-linejoin="round" stroke-linecap="round" />
<path d="M178.3,436.5 L263,417.7 M178.3,440 L263,421.2" fill="none" stroke="#000" stroke-width="1.2" stroke-linejoin="round" stroke-linecap="round" />
<path d="M178.3,443.5 L248,427.5" fill="none" stroke="#000" stroke-width="1.1" stroke-linejoin="round" stroke-linecap="round" />
<path d="M161.3,437 L165,437 M161.6,452 L165.3,452 M161.9,470 L165.6,470 M162.2,485 L166,485" fill="none" stroke="#000" stroke-width="1.3" stroke-linejoin="round" stroke-linecap="round" />
<path d="M161.5,431 L159.5,432 L160,446 L162,445 M162,458 L160,459 L160.5,478 L162.5,477" fill="none" stroke="#000" stroke-width="1.1" stroke-linejoin="round" stroke-linecap="round" />
<path d="M212.5,425.5 L218,429.5 L224.5,423 M212.5,431 L218,428 L224.5,429.5" fill="none" stroke="#000" stroke-width="3" stroke-linejoin="round" stroke-linecap="round" />
<circle cx="209.0" cy="444.0" r="1.9" fill="#000"/>
<circle cx="212.0" cy="446.5" r="1.9" fill="#000"/>
<circle cx="215.0" cy="443.5" r="1.9" fill="#000"/>
<circle cx="218.0" cy="447.0" r="1.9" fill="#000"/>
<circle cx="221.0" cy="444.5" r="1.9" fill="#000"/>
<circle cx="224.0" cy="448.0" r="1.9" fill="#000"/>
<circle cx="214.0" cy="449.5" r="1.9" fill="#000"/>
<circle cx="219.0" cy="450.5" r="1.9" fill="#000"/>
<circle cx="211.0" cy="441.5" r="1.9" fill="#000"/>
<circle cx="222.0" cy="441.5" r="1.9" fill="#000"/>
<circle cx="216.0" cy="441.0" r="1.9" fill="#000"/>
<circle cx="226.0" cy="445.0" r="1.9" fill="#000"/>
<circle cx="213.0" cy="443.5" r="1.9" fill="#000"/>
<circle cx="220.0" cy="447.5" r="1.9" fill="#000"/>
<path d="M243.5,434 L243.5,447 L247.5,449 L247.5,436 Z M247.5,436 L255,433.5 L255,446.5 L247.5,449" fill="none" stroke="#000" stroke-width="1.6" stroke-linejoin="round" stroke-linecap="round" />
<path d="M249.5,440 L253,439 L253,445 L249.5,446 Z" fill="#000" stroke="#000" stroke-width="1.4" stroke-linejoin="round" stroke-linecap="round" />
<path d="M256,436 L262,434 L262,441 L256,443 Z" fill="#000" stroke="#000" stroke-width="1.4" stroke-linejoin="round" stroke-linecap="round" />
<path d="M263.5,418 L263.5,434 M266.5,418 L266.5,440" fill="none" stroke="#000" stroke-width="1.3" stroke-linejoin="round" stroke-linecap="round" />
<path d="M272,419 L274,443" fill="none" stroke="#000" stroke-width="1.1" stroke-linejoin="round" stroke-linecap="round" />
<line x1="211.3" y1="368.5" x2="224.8" y2="398.0" stroke="#000" stroke-width="1.4"/>
<text x="203.6" y="367.0" font-size="14.9" textLength="14.3" lengthAdjust="spacingAndGlyphs" stroke="#000" stroke-width="0.4">12</text>
<line x1="232.9" y1="363.0" x2="249.8" y2="437.0" stroke="#000" stroke-width="1.4"/>
<text x="220.3" y="361.7" font-size="14.9" textLength="27.1" lengthAdjust="spacingAndGlyphs" stroke="#000" stroke-width="0.4">12A</text>
<path d="M167.9,503.4 L240.4,461 L241,455.5 L238.6,455.4 L187.7,482" fill="none" stroke="#000" stroke-width="1.4" stroke-linejoin="round" stroke-linecap="round" />
<path d="M169,497 L238,459.5" fill="none" stroke="#000" stroke-width="1.1" stroke-linejoin="round" stroke-linecap="round" />
<path d="M173,492 L186,484.5" fill="none" stroke="#000" stroke-width="2.6" stroke-linejoin="round" stroke-linecap="round" />
<path d="M190,485 L204,477" fill="none" stroke="#000" stroke-width="2.2" stroke-linejoin="round" stroke-linecap="round" />
<path d="M202,475.5 L219,466" fill="none" stroke="#000" stroke-width="2.8" stroke-linejoin="round" stroke-linecap="round" />
<path d="M222,470 L236,462" fill="none" stroke="#000" stroke-width="1.8" stroke-linejoin="round" stroke-linecap="round" />
<path d="M224,464.5 L238,457" fill="none" stroke="#000" stroke-width="1.6" stroke-linejoin="round" stroke-linecap="round" />
<path d="M176,497.5 L236,464.5" fill="none" stroke="#000" stroke-width="1" stroke-linejoin="round" stroke-linecap="round" />
<line x1="222.5" y1="486.7" x2="213.0" y2="469.2" stroke="#000" stroke-width="1.4"/>
<line x1="218.4" y1="504.2" x2="190.2" y2="486.7" stroke="#000" stroke-width="1.4"/>
<text x="217.6" y="498.3" font-size="14.3" textLength="14.2" lengthAdjust="spacingAndGlyphs" stroke="#000" stroke-width="0.4">17</text>
<path d="M194.8,522.9 L270.2,479.8 L274.2,478 L274.2,503.5 L270.2,505.4 L207,543 L205,542 L205,531 Z" fill="none" stroke="#000" stroke-width="1.8" stroke-linejoin="round" stroke-linecap="round" />
<path d="M270.2,479.8 L270.2,505.4" fill="none" stroke="#000" stroke-width="2.2" stroke-linejoin="round" stroke-linecap="round" />
<path d="M199.5,522.5 L207.6,530 L207.6,542.5" fill="none" stroke="#000" stroke-width="2.4" stroke-linejoin="round" stroke-linecap="round" />
<path d="M233.8,525.5 L233.8,519.5 L241,515.5 L241.5,522.5 L248,525.5 L240,530.5 L233.8,525.5 M241.5,522.5 L236.5,525.5" fill="none" stroke="#000" stroke-width="1.8" stroke-linejoin="round" stroke-linecap="round" />
<ellipse cx="241.5" cy="526.8" rx="2.2" ry="1.2" fill="#000" stroke="#000" stroke-width="1.4" transform="rotate(-25 241.5 526.8)"/>
<rect x="221.8" y="505.6" width="5.4" height="5" rx="1" fill="#000"/>
<rect x="259.3" y="484.3" width="5.6" height="5.4" rx="1" fill="#000"/>
<line x1="225.8" y1="564.6" x2="219.8" y2="537.7" stroke="#000" stroke-width="1.4"/>
<text x="219.4" y="575.6" font-size="13.3" textLength="14.8" lengthAdjust="spacingAndGlyphs" stroke="#000" stroke-width="0.4">26</text>
<path d="M271,457 L278,454 L282.5,456 L282.5,466 L276,469 L271,467 Z" fill="none" stroke="#000" stroke-width="1.4" stroke-linejoin="round" stroke-linecap="round" />
<path d="M276,459 L276,469 M276,459 L282.5,456" fill="none" stroke="#000" stroke-width="1.4" stroke-linejoin="round" stroke-linecap="round" />
<path d="M277,460 L282,457.8 L282,465.5 L277,468 Z" fill="#000" stroke="#000" stroke-width="1" stroke-linejoin="round" stroke-linecap="round" />
<line x1="259.0" y1="441.0" x2="271.0" y2="455.0" stroke="#000" stroke-width="1.1"/>
<line x1="284.0" y1="461.0" x2="290.0" y2="468.0" stroke="#000" stroke-width="1.1"/>
<line x1="297.0" y1="438.0" x2="283.6" y2="452.9" stroke="#000" stroke-width="1.4"/>
<text x="295.3" y="434.0" font-size="13.9" textLength="15.7" lengthAdjust="spacingAndGlyphs" stroke="#000" stroke-width="0.4">22</text>
<ellipse cx="293.0" cy="471.7" rx="3.6" ry="2.6" fill="#fff" stroke="#000" stroke-width="2.4" transform="rotate(-20 293.0 471.7)"/>
<line x1="313.2" y1="455.6" x2="296.3" y2="469.8" stroke="#000" stroke-width="1.4"/>
<text x="312.8" y="453.7" font-size="14.2" textLength="15.7" lengthAdjust="spacingAndGlyphs" stroke="#000" stroke-width="0.4">24</text>
<line x1="309.5" y1="489.5" x2="297.5" y2="477.5" stroke="#000" stroke-width="5.9"/>
<line x1="306.3" y1="486.3" x2="298.1" y2="478.1" stroke="#fff" stroke-width="1.2" stroke-dasharray="1.1 1.8"/>
<ellipse cx="308.8" cy="488.8" rx="3.0" ry="3.9" fill="#fff" stroke="#000" stroke-width="2.6" transform="rotate(-135.0 308.8 488.8)"/>
<line x1="329.4" y1="469.8" x2="306.5" y2="480.6" stroke="#000" stroke-width="1.4"/>
<text x="330.3" y="471.2" font-size="13.1" textLength="14.3" lengthAdjust="spacingAndGlyphs" stroke="#000" stroke-width="0.4">23</text>
<line x1="291.0" y1="522.0" x2="307.5" y2="534.5" stroke="#000" stroke-width="6.3"/>
<line x1="294.6" y1="524.7" x2="306.9" y2="534.0" stroke="#fff" stroke-width="1.2" stroke-dasharray="1.1 1.8"/>
<ellipse cx="291.8" cy="522.6" rx="2.9" ry="3.7" fill="#fff" stroke="#000" stroke-width="2.6" transform="rotate(37.14668669802178 291.8 522.6)"/>
<ellipse cx="314.0" cy="536.5" rx="2.1" ry="3.1" fill="#fff" stroke="#000" stroke-width="2.4" transform="rotate(30 314.0 536.5)"/>
<line x1="310.6" y1="508.6" x2="299.8" y2="524.2" stroke="#000" stroke-width="1.4"/>
<text x="304.8" y="507.5" font-size="14.2" textLength="15.7" lengthAdjust="spacingAndGlyphs" stroke="#000" stroke-width="0.4">20</text>
<line x1="333.4" y1="517.5" x2="318.6" y2="531.7" stroke="#000" stroke-width="1.4"/>
<text x="329.0" y="515.6" font-size="14.2" textLength="12.8" lengthAdjust="spacingAndGlyphs" stroke="#000" stroke-width="0.4">21</text>
<line x1="317.3" y1="538.5" x2="348.2" y2="553.8" stroke="#000" stroke-width="1.1" stroke-dasharray="7 2 1.5 2"/>
<path d="M313.5,561 Q315,552 331,544 L355.5,532" fill="none" stroke="#000" stroke-width="4.6" stroke-linejoin="round" stroke-linecap="round" />
<path d="M313.5,561 Q315,552 331,544 L355.5,532" fill="none" stroke="#fff" stroke-width="1.9" stroke-linejoin="round" stroke-linecap="round" />
<path d="M355,530 L362,526 L367.5,528 L362,533.5 L356.5,535 Z" fill="#fff" stroke="#000" stroke-width="1.3" stroke-linejoin="round" stroke-linecap="round" />
<line x1="289.8" y1="548.4" x2="314.0" y2="553.3" stroke="#000" stroke-width="1.4"/>
<text x="273.8" y="552.7" font-size="13.5" textLength="14.3" lengthAdjust="spacingAndGlyphs" stroke="#000" stroke-width="0.4">16</text>
<path d="M290.4,571.3 L305,569.5 L320,572.5 M305,569.5 L318,577" fill="none" stroke="#000" stroke-width="1" stroke-linejoin="round" stroke-linecap="round" />
<text x="275.2" y="578.0" font-size="13.1" textLength="12.8" lengthAdjust="spacingAndGlyphs" stroke="#000" stroke-width="0.4">18</text>
<path d="M352,556 L358,551.5 L364,553 L368.5,548.5 L367,554.5 L360,558.5 L354,560 Z" fill="none" stroke="#000" stroke-width="1.3" stroke-linejoin="round" stroke-linecap="round" />
<path d="M355,556 L359,554" fill="none" stroke="#000" stroke-width="2" stroke-linejoin="round" stroke-linecap="round" />
<line x1="341.5" y1="580.7" x2="355.0" y2="557.9" stroke="#000" stroke-width="1.4"/>
<text x="334.4" y="591.0" font-size="13.2" textLength="14.2" lengthAdjust="spacingAndGlyphs" stroke="#000" stroke-width="0.4">19</text>
<text x="353" y="523.5" font-size="18.5" stroke="#000" stroke-width="0.5">a</text>
<line x1="388.4" y1="528.0" x2="369.0" y2="522.6" stroke="#000" stroke-width="1.4"/>
<ellipse cx="377.0" cy="525.2" rx="2.6" ry="1.3" fill="#000" stroke="#000" stroke-width="1.4" transform="rotate(17 377.0 525.2)"/>
<path d="M365.7,522 L372,521 L370.8,526 Z" fill="#000" stroke="#000" stroke-width="0.6" stroke-linejoin="round" stroke-linecap="round" />
<path d="M527.5,386 L527.5,377 Q529,366 538,363 Q546,360 551,362.5 L584,380.5 Q592,385 588,389.5 L574.5,402.5 Q573,404 573,407 L573,410.5" fill="none" stroke="#000" stroke-width="4.9" stroke-linejoin="round" stroke-linecap="round" />
<path d="M527.5,386 L527.5,377 Q529,366 538,363 Q546,360 551,362.5 L584,380.5 Q592,385 588,389.5 L574.5,402.5 Q573,404 573,407 L573,410.5" fill="none" stroke="#fff" stroke-width="2.3" stroke-linejoin="round" stroke-linecap="round" />
<path d="M525.3,386.5 L529.8,386.5 M570.8,411 L575.2,411" fill="none" stroke="#000" stroke-width="1.6" stroke-linejoin="round" stroke-linecap="round" />
<line x1="530.0" y1="382.0" x2="548.5" y2="371.0" stroke="#000" stroke-width="1.1"/>
<line x1="590.5" y1="345.8" x2="574.4" y2="355.2" stroke="#000" stroke-width="5.9"/>
<line x1="586.6" y1="348.1" x2="575.1" y2="354.8" stroke="#fff" stroke-width="1.2" stroke-dasharray="1.1 1.8"/>
<ellipse cx="589.6" cy="346.3" rx="3.0" ry="3.9" fill="#fff" stroke="#000" stroke-width="2.6" transform="rotate(149.72144091497816 589.6 346.3)"/>
<ellipse cx="567.7" cy="359.8" rx="2.4" ry="3.6" fill="#000" stroke="#000" stroke-width="1.2" transform="rotate(-30 567.7 359.8)"/>
<line x1="552.0" y1="369.0" x2="563.0" y2="362.5" stroke="#000" stroke-width="1.1"/>
<line x1="571.7" y1="322.0" x2="581.0" y2="345.8" stroke="#000" stroke-width="1.4"/>
<text x="563.2" y="321.3" font-size="13.9" textLength="15.3" lengthAdjust="spacingAndGlyphs" stroke="#000" stroke-width="0.4">38</text>
<line x1="549.4" y1="335.0" x2="565.5" y2="357.0" stroke="#000" stroke-width="1.4"/>
<text x="539.0" y="334.5" font-size="14.3" textLength="15.7" lengthAdjust="spacingAndGlyphs" stroke="#000" stroke-width="0.4">39</text>
<line x1="528.6" y1="345.2" x2="537.5" y2="363.3" stroke="#000" stroke-width="1.4"/>
<text x="519.4" y="344.6" font-size="14.0" textLength="15.9" lengthAdjust="spacingAndGlyphs" stroke="#000" stroke-width="0.4">37</text>
<line x1="507.0" y1="361.4" x2="501.7" y2="386.0" stroke="#000" stroke-width="1.4"/>
<text x="500.0" y="360.8" font-size="13.6" textLength="14.8" lengthAdjust="spacingAndGlyphs" stroke="#000" stroke-width="0.4">34</text>
<polyline points="568.3,420.6 574.4,419.9" fill="none" stroke="#000" stroke-width="1.55" stroke-linejoin="round"/>
<polyline points="568.0,422.8 574.7,422.1" fill="none" stroke="#000" stroke-width="1.55" stroke-linejoin="round"/>
<polyline points="570.5,418.6 572.0,425.3" fill="none" stroke="#000" stroke-width="1.55" stroke-linejoin="round"/>
<polyline points="576.5,422.3 581.8,421.6 580.5,423.6" fill="none" stroke="#000" stroke-width="1.55" stroke-linejoin="round"/>
<polyline points="578.1,420.9 579.5,425.3" fill="none" stroke="#000" stroke-width="1.55" stroke-linejoin="round"/>
<polyline points="583.6,419.9 589.3,419.9 588.3,423.0 585.2,425.3" fill="none" stroke="#000" stroke-width="1.55" stroke-linejoin="round"/>
<polyline points="588.6,418.6 589.1,419.4" fill="none" stroke="#000" stroke-width="1.55" stroke-linejoin="round"/>
<polyline points="589.7,418.6 590.3,419.4" fill="none" stroke="#000" stroke-width="1.55" stroke-linejoin="round"/>
<polyline points="592.4,420.1 597.0,420.1" fill="none" stroke="#000" stroke-width="1.55" stroke-linejoin="round"/>
<polyline points="591.4,421.8 598.1,421.8" fill="none" stroke="#000" stroke-width="1.55" stroke-linejoin="round"/>
<polyline points="594.7,418.6 594.7,425.3" fill="none" stroke="#000" stroke-width="1.55" stroke-linejoin="round"/>
<polyline points="594.7,422.0 591.5,425.2" fill="none" stroke="#000" stroke-width="1.55" stroke-linejoin="round"/>
<polyline points="594.7,422.0 597.9,425.2" fill="none" stroke="#000" stroke-width="1.55" stroke-linejoin="round"/>
<polyline points="599.1,419.4 601.5,419.4" fill="none" stroke="#000" stroke-width="1.55" stroke-linejoin="round"/>
<polyline points="600.5,418.6 600.5,421.4" fill="none" stroke="#000" stroke-width="1.55" stroke-linejoin="round"/>
<polyline points="602.2,419.6 605.8,419.6" fill="none" stroke="#000" stroke-width="1.55" stroke-linejoin="round"/>
<polyline points="604.0,418.6 604.0,421.1" fill="none" stroke="#000" stroke-width="1.55" stroke-linejoin="round"/>
<polyline points="602.5,421.1 605.5,421.1" fill="none" stroke="#000" stroke-width="1.55" stroke-linejoin="round"/>
<polyline points="599.1,422.3 605.8,422.3" fill="none" stroke="#000" stroke-width="1.55" stroke-linejoin="round"/>
<polyline points="602.5,421.6 602.5,423.3" fill="none" stroke="#000" stroke-width="1.55" stroke-linejoin="round"/>
<polyline points="602.5,423.3 599.5,425.3" fill="none" stroke="#000" stroke-width="1.55" stroke-linejoin="round"/>
<polyline points="601.2,423.6 601.2,425.3" fill="none" stroke="#000" stroke-width="1.55" stroke-linejoin="round"/>
<polyline points="602.5,423.3 605.7,425.3" fill="none" stroke="#000" stroke-width="1.55" stroke-linejoin="round"/>
<polyline points="603.8,423.3 605.2,422.8" fill="none" stroke="#000" stroke-width="1.55" stroke-linejoin="round"/>
<polyline points="608.6,418.6 607.1,421.3" fill="none" stroke="#000" stroke-width="1.55" stroke-linejoin="round"/>
<polyline points="608.1,420.3 608.1,425.3" fill="none" stroke="#000" stroke-width="1.55" stroke-linejoin="round"/>
<polyline points="609.3,419.6 613.6,419.6" fill="none" stroke="#000" stroke-width="1.55" stroke-linejoin="round"/>
<polyline points="610.3,418.6 610.3,420.6" fill="none" stroke="#000" stroke-width="1.55" stroke-linejoin="round"/>
<polyline points="612.4,418.6 612.4,420.6" fill="none" stroke="#000" stroke-width="1.55" stroke-linejoin="round"/>
<polyline points="609.3,420.6 609.3,425.3" fill="none" stroke="#000" stroke-width="1.55" stroke-linejoin="round"/>
<polyline points="609.3,421.4 613.5,421.4" fill="none" stroke="#000" stroke-width="1.55" stroke-linejoin="round"/>
<polyline points="613.5,421.4 613.5,425.3" fill="none" stroke="#000" stroke-width="1.55" stroke-linejoin="round"/>
<polyline points="609.3,422.8 613.5,422.8" fill="none" stroke="#000" stroke-width="1.55" stroke-linejoin="round"/>
<polyline points="609.3,424.1 613.5,424.1" fill="none" stroke="#000" stroke-width="1.55" stroke-linejoin="round"/>
<polyline points="611.3,421.4 611.3,425.3" fill="none" stroke="#000" stroke-width="1.55" stroke-linejoin="round"/>
<polyline points="614.8,419.3 614.8,424.6" fill="none" stroke="#000" stroke-width="1.55" stroke-linejoin="round"/>
<polyline points="614.8,419.3 617.1,419.3" fill="none" stroke="#000" stroke-width="1.55" stroke-linejoin="round"/>
<polyline points="617.1,419.3 617.1,424.6" fill="none" stroke="#000" stroke-width="1.55" stroke-linejoin="round"/>
<polyline points="614.8,422.0 617.1,422.0" fill="none" stroke="#000" stroke-width="1.55" stroke-linejoin="round"/>
<polyline points="614.8,424.6 617.1,424.6" fill="none" stroke="#000" stroke-width="1.55" stroke-linejoin="round"/>
<polyline points="618.1,419.6 621.3,419.6" fill="none" stroke="#000" stroke-width="1.55" stroke-linejoin="round"/>
<polyline points="619.7,418.6 619.7,420.9" fill="none" stroke="#000" stroke-width="1.55" stroke-linejoin="round"/>
<polyline points="617.7,420.9 621.4,420.9" fill="none" stroke="#000" stroke-width="1.55" stroke-linejoin="round"/>
<polyline points="617.7,422.5 621.4,422.5" fill="none" stroke="#000" stroke-width="1.55" stroke-linejoin="round"/>
<polyline points="620.1,420.9 620.1,425.3 619.1,425.0" fill="none" stroke="#000" stroke-width="1.55" stroke-linejoin="round"/>
<polyline points="618.4,423.3 619.1,424.1" fill="none" stroke="#000" stroke-width="1.55" stroke-linejoin="round"/>
<text x="566.6" y="434.7" font-size="9.6" font-weight="bold" textLength="31.1" lengthAdjust="spacingAndGlyphs" stroke="#000" stroke-width="0.55">Without</text>
<text x="605.2" y="434.7" font-size="9.6" font-weight="bold" textLength="15.3" lengthAdjust="spacingAndGlyphs" stroke="#000" stroke-width="0.55">Cab</text>
<line x1="517.0" y1="386.0" x2="525.0" y2="390.0" stroke="#000" stroke-width="1.1"/>
<line x1="517.0" y1="388.0" x2="511.0" y2="391.5" stroke="#000" stroke-width="1.1"/>
<line x1="522.0" y1="388.0" x2="566.3" y2="415.1" stroke="#000" stroke-width="1.1"/>
<path d="M469.2,380.1 Q470,376.5 475.6,376.9 L538.1,411.3 Q541,413 540.5,417" fill="none" stroke="#000" stroke-width="1.5" stroke-linejoin="round" stroke-linecap="round" />
<path d="M469.2,380.1 L537,416.7 L538.1,411.3" fill="none" stroke="#000" stroke-width="1.6" stroke-linejoin="round" stroke-linecap="round" />
<path d="M471.3,385.5 L536,420" fill="none" stroke="#000" stroke-width="1.1" stroke-linejoin="round" stroke-linecap="round" />
<path d="M469.2,389.8 L532.8,424.3" fill="none" stroke="#000" stroke-width="1.6" stroke-linejoin="round" stroke-linecap="round" />
<path d="M537,416.7 L536.7,424" fill="none" stroke="#000" stroke-width="1.4" stroke-linejoin="round" stroke-linecap="round" />
<path d="M477,381.5 L484,385 M496,392 L512,400.5 M516,402.5 L522,406" fill="none" stroke="#000" stroke-width="2" stroke-linejoin="round" stroke-linecap="round" />
<path d="M468.1,381.2 L468.1,443.7" fill="none" stroke="#000" stroke-width="1.6" stroke-linejoin="round" stroke-linecap="round" />
<path d="M471.3,391 L471.3,444.5 M475.6,393.5 L475.6,446 M483.2,395.2 L483.2,440.4" fill="none" stroke="#000" stroke-width="1.3" stroke-linejoin="round" stroke-linecap="round" />
<path d="M470,392 L475.6,395 L475.6,404.5 L470,403 Z" fill="#000" stroke="#000" stroke-width="1" stroke-linejoin="round" stroke-linecap="round" />
<path d="M484.5,399.5 L490,402 L490,409 L485,407.5 Z" fill="#000" stroke="#000" stroke-width="1" stroke-linejoin="round" stroke-linecap="round" />
<path d="M490,403 L498,400.5" fill="none" stroke="#000" stroke-width="1.4" stroke-linejoin="round" stroke-linecap="round" />
<path d="M531.7,427.5 L532.1,472.8 M537,419 L537.5,476 M542.5,416.7 L545.7,470.6 M540.5,417 L542.5,416.7" fill="none" stroke="#000" stroke-width="1.5" stroke-linejoin="round" stroke-linecap="round" />
<path d="M533,424.5 L537,426.5 L537,431 L533,430 Z" fill="#000" stroke="#000" stroke-width="1" stroke-linejoin="round" stroke-linecap="round" />
<circle cx="540.0" cy="433.0" r="1" fill="#000"/>
<circle cx="541.0" cy="447.0" r="1" fill="#000"/>
<path d="M430.4,427.5 L437.9,422.1 L443.3,424.3 L445.5,420 L457.3,420 L458.4,423.2 L452,426.4 L468.1,435" fill="none" stroke="#000" stroke-width="1.5" stroke-linejoin="round" stroke-linecap="round" />
<path d="M430.4,427.5 L431.5,430.7 L441.2,435 L467,445.8 L468.1,446.9 L471.3,448 L477,445" fill="none" stroke="#000" stroke-width="1.5" stroke-linejoin="round" stroke-linecap="round" />
<path d="M437.9,428.5 L452,426.4 M437.9,428.5 L431.5,430.7 M441.2,435 L446,431.5 L468.1,439.5" fill="none" stroke="#000" stroke-width="1.3" stroke-linejoin="round" stroke-linecap="round" />
<path d="M476.7,442.6 L531.7,466.3" fill="none" stroke="#000" stroke-width="1.3" stroke-linejoin="round" stroke-linecap="round" />
<path d="M483.2,439.4 L517.7,460.9 L519.8,466.3 L528.4,470.6 L528.4,479.2 L554.3,496.5 L565,503 L578,494.3 L571.6,484.6 L559.7,483.5 L545.7,470.6" fill="none" stroke="#000" stroke-width="1.5" stroke-linejoin="round" stroke-linecap="round" />
<path d="M471.3,448 L517.7,468 M528.4,476 L552.2,491 L559.7,483.5 M552.2,491 L554.3,496.5" fill="none" stroke="#000" stroke-width="1.3" stroke-linejoin="round" stroke-linecap="round" />
<path d="M558,490 L563,486.5 L571,487.5 L574.5,493 L566.5,498.5 Z" fill="none" stroke="#000" stroke-width="1.2" stroke-linejoin="round" stroke-linecap="round" />
<line x1="565.0" y1="441.0" x2="565.0" y2="458.5" stroke="#000" stroke-width="6.1"/>
<line x1="565.0" y1="445.5" x2="565.0" y2="457.7" stroke="#fff" stroke-width="1.2" stroke-dasharray="1.1 1.8"/>
<rect x="560.2" y="438.5" width="9.6" height="7.6" rx="2" fill="#fff" stroke="#000" stroke-width="1.9"/>
<line x1="562.4" y1="443.8" x2="567.6" y2="443.8" stroke="#000" stroke-width="1.2"/>
<ellipse cx="565.1" cy="466.3" rx="4.6" ry="2.3" fill="none" stroke="#000" stroke-width="2.2"/>
<line x1="570.4" y1="449.8" x2="596.0" y2="445.8" stroke="#000" stroke-width="1.4"/>
<text x="596.9" y="449.8" font-size="13.9" textLength="14.8" lengthAdjust="spacingAndGlyphs" stroke="#000" stroke-width="0.4">35</text>
<line x1="571.7" y1="466.7" x2="595.0" y2="468.6" stroke="#000" stroke-width="1.4"/>
<text x="596.9" y="474.8" font-size="14.2" textLength="14.8" lengthAdjust="spacingAndGlyphs" stroke="#000" stroke-width="0.4">36</text>
<line x1="565.0" y1="471.3" x2="565.0" y2="490.0" stroke="#000" stroke-width="1.1"/>
<path d="M381.2,537.9 L392,531.4 L394,534.5 L383.3,541.5 Z" fill="none" stroke="#000" stroke-width="1.5" stroke-linejoin="round" stroke-linecap="round" />
<path d="M381.2,537.9 L381.5,544 L383.5,545.5 L383.3,541.5" fill="none" stroke="#000" stroke-width="1.3" stroke-linejoin="round" stroke-linecap="round" />
<path d="M393,531.4 L446.9,484 L451.2,488.5 L451.2,536.8" fill="none" stroke="#000" stroke-width="1.5" stroke-linejoin="round" stroke-linecap="round" />
<path d="M395.2,535.7 L448,491.6" fill="none" stroke="#000" stroke-width="1.5" stroke-linejoin="round" stroke-linecap="round" />
<path d="M398,530 L408,521 M412,517.5 L426,505.5 M430,501.5 L442,491" fill="none" stroke="#000" stroke-width="2.4" stroke-linejoin="round" stroke-linecap="round" />
<path d="M442.6,491.6 L443.7,541 M447.5,493 L448.6,538" fill="none" stroke="#000" stroke-width="1.5" stroke-linejoin="round" stroke-linecap="round" />
<path d="M380,547.6 L382.2,623" fill="none" stroke="#000" stroke-width="1.5" stroke-linejoin="round" stroke-linecap="round" />
<path d="M383.5,546 L385.3,620" fill="none" stroke="#000" stroke-width="1.2" stroke-linejoin="round" stroke-linecap="round" />
<path d="M386.6,543.3 L388.5,613" fill="none" stroke="#000" stroke-width="1.3" stroke-linejoin="round" stroke-linecap="round" />
<path d="M390,543 L391,588" fill="none" stroke="#000" stroke-width="2.6" stroke-linejoin="round" stroke-linecap="round" />
<path d="M380,566 L377.5,567.5 L378.3,599 L381,598" fill="none" stroke="#000" stroke-width="1.2" stroke-linejoin="round" stroke-linecap="round" />
<path d="M395.2,539 L440.4,502.3 L441.5,548 M395.2,539 L395.2,586.4" fill="none" stroke="#000" stroke-width="1.6" stroke-linejoin="round" stroke-linecap="round" />
<path d="M398.5,541.5 L437.5,509.5 L438.3,545 M398.5,541.5 L398.5,583" fill="none" stroke="#000" stroke-width="1.1" stroke-linejoin="round" stroke-linecap="round" />
<path d="M395.2,588.5 L455.5,557.3" fill="none" stroke="#000" stroke-width="2" stroke-linejoin="round" stroke-linecap="round" />
<path d="M397.3,587.5 L436,553 L451.2,556.2" fill="none" stroke="#000" stroke-width="1.6" stroke-linejoin="round" stroke-linecap="round" />
<path d="M422,568 L444,555.5 L447,558.5 Z" fill="none" stroke="#000" stroke-width="1.2" stroke-linejoin="round" stroke-linecap="round" />
<path d="M405,581 L432,560" fill="none" stroke="#000" stroke-width="2.2" stroke-linejoin="round" stroke-linecap="round" />
<path d="M388.7,613.3 L455.5,578.8 L455.5,557.3" fill="none" stroke="#000" stroke-width="1.5" stroke-linejoin="round" stroke-linecap="round" />
<path d="M382.2,623 L426.4,597.2" fill="none" stroke="#000" stroke-width="2.6" stroke-linejoin="round" stroke-linecap="round" />
<path d="M426.4,597.2 L455.5,581.5" fill="none" stroke="#000" stroke-width="1.3" stroke-linejoin="round" stroke-linecap="round" />
<path d="M386.6,597.2 L388.7,613.3" fill="none" stroke="#000" stroke-width="1.3" stroke-linejoin="round" stroke-linecap="round" />
<path d="M392,592.5 L392,609.5" fill="none" stroke="#000" stroke-width="1.2" stroke-linejoin="round" stroke-linecap="round" />
<path d="M410,543 L414,546.5 L410.5,549 L415,552 L411.5,555 L416,557.5" fill="none" stroke="#000" stroke-width="2.2" stroke-linejoin="round" stroke-linecap="round" />
<path d="M413,592 L418,589.5 M420,592 L423,590" fill="none" stroke="#000" stroke-width="1.8" stroke-linejoin="round" stroke-linecap="round" />
<circle cx="404.5" cy="599.0" r="1.3" fill="#000"/>
<circle cx="401.0" cy="600.0" r="1" fill="#000"/>
<path d="M431,529 L431,545 L435,547 L435,531 Z" fill="none" stroke="#000" stroke-width="1.5" stroke-linejoin="round" stroke-linecap="round" />
<path d="M435,531 L441.5,528 L441.5,544 L435,547" fill="none" stroke="#000" stroke-width="1.5" stroke-linejoin="round" stroke-linecap="round" />
<path d="M436.5,535 L440,533.5 L440,542 L436.5,543.5 Z" fill="#000" stroke="#000" stroke-width="1.2" stroke-linejoin="round" stroke-linecap="round" />
<path d="M442.6,543.3 L462,551.5 L464,549 L446,541.5 M446,546.5 L460,553.5" fill="none" stroke="#000" stroke-width="1.3" stroke-linejoin="round" stroke-linecap="round" />
<line x1="464.0" y1="465.0" x2="447.9" y2="483.4" stroke="#000" stroke-width="1.4"/>
<text x="462.3" y="463.8" font-size="11.9" textLength="12.8" lengthAdjust="spacingAndGlyphs" stroke="#000" stroke-width="0.4">11</text>
<line x1="417.9" y1="487.5" x2="438.0" y2="538.6" stroke="#000" stroke-width="1.4"/>
<text x="401.3" y="486.7" font-size="13.9" textLength="25.8" lengthAdjust="spacingAndGlyphs" stroke="#000" stroke-width="0.4">11A</text>
<line x1="425.6" y1="596.0" x2="425.6" y2="660.8" stroke="#000" stroke-width="1.4"/>
<line x1="431.5" y1="593.5" x2="455.7" y2="607.0" stroke="#000" stroke-width="1.1"/>
<line x1="393.0" y1="534.0" x2="484.0" y2="565.0" stroke="#000" stroke-width="1.1"/>
<path d="M447.5,486 Q462,490 470.5,509" fill="none" stroke="#000" stroke-width="1.1" stroke-linejoin="round" stroke-linecap="round" />
<path d="M471.5,511.5 Q470,509 473,508 L484,504.5 Q486.5,504.5 486.5,507.5 L486.5,513.5 L474,518.5 L471.5,516 Z" fill="none" stroke="#000" stroke-width="1.4" stroke-linejoin="round" stroke-linecap="round" />
<path d="M474,513 L474,518.5 M474,513 L486.5,508" fill="none" stroke="#000" stroke-width="1.2" stroke-linejoin="round" stroke-linecap="round" />
<ellipse cx="481.0" cy="512.0" rx="2.0" ry="1.3" fill="#000" stroke="#000" stroke-width="1.4" transform="rotate(-20 481.0 512.0)"/>
<line x1="487.4" y1="483.4" x2="482.9" y2="506.3" stroke="#000" stroke-width="1.4"/>
<text x="481.1" y="482.9" font-size="14.2" textLength="12.8" lengthAdjust="spacingAndGlyphs" stroke="#000" stroke-width="0.4">13</text>
<path d="M461.5,540 Q459.5,544 464,544.3 L502,526 Q506,522.5 502.5,519.5 Q498.5,518.5 494,521.5 Z" fill="none" stroke="#000" stroke-width="1.9" stroke-linejoin="round" stroke-linecap="round" />
<ellipse cx="466.0" cy="540.5" rx="2.2" ry="1.4" fill="#000" stroke="#000" stroke-width="1.4" transform="rotate(-25 466.0 540.5)"/>
<ellipse cx="494.5" cy="523.5" rx="3.0" ry="1.8" fill="#000" stroke="#000" stroke-width="1.4" transform="rotate(-25 494.5 523.5)"/>
<path d="M465,540.5 L497,524.5 Q500,522.5 502,523" fill="none" stroke="#000" stroke-width="1.1" stroke-linejoin="round" stroke-linecap="round" />
<line x1="503.0" y1="494.2" x2="498.6" y2="519.8" stroke="#000" stroke-width="1.4"/>
<text x="496.6" y="492.9" font-size="13.2" textLength="14.4" lengthAdjust="spacingAndGlyphs" stroke="#000" stroke-width="0.4">31</text>
<path d="M476.5,566.5 L487,561.5 L489.2,563.5 L489.2,569.5 L479,574 L476.5,572 Z" fill="none" stroke="#000" stroke-width="1.4" stroke-linejoin="round" stroke-linecap="round" />
<path d="M479,568.5 L479,574 M479,568.5 L489.2,563.5" fill="none" stroke="#000" stroke-width="1.2" stroke-linejoin="round" stroke-linecap="round" />
<ellipse cx="485.0" cy="568.0" rx="2.0" ry="1.3" fill="#000" stroke="#000" stroke-width="1.4" transform="rotate(-20 485.0 568.0)"/>
<line x1="493.2" y1="548.0" x2="486.5" y2="562.9" stroke="#000" stroke-width="1.4"/>
<text x="487.5" y="547.5" font-size="14.2" textLength="14.2" lengthAdjust="spacingAndGlyphs" stroke="#000" stroke-width="0.4">13</text>
<ellipse cx="495.0" cy="574.0" rx="2.1" ry="3.0" fill="#fff" stroke="#000" stroke-width="2.4" transform="rotate(25 495.0 574.0)"/>
<line x1="506.7" y1="555.6" x2="497.8" y2="571.0" stroke="#000" stroke-width="1.4"/>
<text x="502.3" y="554.0" font-size="13.9" textLength="14.1" lengthAdjust="spacingAndGlyphs" stroke="#000" stroke-width="0.4">15</text>
<line x1="517.5" y1="587.5" x2="501.5" y2="578.5" stroke="#000" stroke-width="6.9"/>
<line x1="513.6" y1="585.3" x2="502.2" y2="578.9" stroke="#fff" stroke-width="1.2" stroke-dasharray="1.1 1.8"/>
<ellipse cx="516.6" cy="587.0" rx="2.9" ry="3.7" fill="#fff" stroke="#000" stroke-width="2.6" transform="rotate(-150.64224645720873 516.6 587.0)"/>
<line x1="522.9" y1="562.9" x2="510.7" y2="580.4" stroke="#000" stroke-width="1.4"/>
<text x="518.4" y="561.0" font-size="14.2" textLength="14.3" lengthAdjust="spacingAndGlyphs" stroke="#000" stroke-width="0.4">14</text>
<ellipse cx="457.8" cy="609.0" rx="2.1" ry="3.1" fill="#fff" stroke="#000" stroke-width="2.4" transform="rotate(25 457.8 609.0)"/>
<line x1="467.1" y1="587.0" x2="459.6" y2="606.0" stroke="#000" stroke-width="1.4"/>
<text x="461.3" y="585.7" font-size="14.2" textLength="16.2" lengthAdjust="spacingAndGlyphs" stroke="#000" stroke-width="0.4">30</text>
<line x1="480.5" y1="622.5" x2="463.5" y2="612.0" stroke="#000" stroke-width="6.9"/>
<line x1="476.7" y1="620.1" x2="464.2" y2="612.4" stroke="#fff" stroke-width="1.2" stroke-dasharray="1.1 1.8"/>
<ellipse cx="479.6" cy="622.0" rx="2.9" ry="3.7" fill="#fff" stroke="#000" stroke-width="2.6" transform="rotate(-148.2985703304943 479.6 622.0)"/>
<line x1="484.4" y1="596.0" x2="474.4" y2="614.0" stroke="#000" stroke-width="1.4"/>
<text x="479.4" y="594.4" font-size="13.9" textLength="15.1" lengthAdjust="spacingAndGlyphs" stroke="#000" stroke-width="0.4">29</text>
<ellipse cx="515.6" cy="534.6" rx="2.4" ry="3.5" fill="#fff" stroke="#000" stroke-width="2.4" transform="rotate(25 515.6 534.6)"/>
<line x1="538.5" y1="547.5" x2="522.0" y2="538.0" stroke="#000" stroke-width="7.1"/>
<line x1="534.6" y1="545.3" x2="522.7" y2="538.4" stroke="#fff" stroke-width="1.2" stroke-dasharray="1.1 1.8"/>
<ellipse cx="537.6" cy="547.0" rx="3.0" ry="3.9" fill="#fff" stroke="#000" stroke-width="2.6" transform="rotate(-150.06848815949223 537.6 547.0)"/>
<line x1="509.0" y1="527.0" x2="537.7" y2="553.4" stroke="#000" stroke-width="1.1" stroke-dasharray="6 2 1.5 2"/>
<text x="512.1" y="507.9" font-size="13.5" textLength="25.7" lengthAdjust="spacingAndGlyphs" stroke="#000" stroke-width="0.4">24B</text>
<text x="532.3" y="521.0" font-size="14.4" textLength="27.0" lengthAdjust="spacingAndGlyphs" stroke="#000" stroke-width="0.4">24A</text>
<line x1="524.0" y1="509.5" x2="517.0" y2="530.5" stroke="#000" stroke-width="1.4"/>
<line x1="545.0" y1="522.5" x2="533.0" y2="540.0" stroke="#000" stroke-width="1.4"/>
<ellipse cx="533.5" cy="651.0" rx="2.3" ry="3.4" fill="#fff" stroke="#000" stroke-width="2.4" transform="rotate(25 533.5 651.0)"/>
<line x1="558.5" y1="664.5" x2="541.5" y2="655.0" stroke="#000" stroke-width="6.9"/>
<line x1="554.6" y1="662.3" x2="542.2" y2="655.4" stroke="#fff" stroke-width="1.2" stroke-dasharray="1.1 1.8"/>
<ellipse cx="557.6" cy="664.0" rx="2.9" ry="3.7" fill="#fff" stroke="#000" stroke-width="2.6" transform="rotate(-150.80251395393555 557.6 664.0)"/>
<text x="532.6" y="632.0" font-size="15.3" textLength="17.5" lengthAdjust="spacingAndGlyphs" stroke="#000" stroke-width="0.4">33</text>
<text x="551.6" y="642.5" font-size="15.3" textLength="17.0" lengthAdjust="spacingAndGlyphs" stroke="#000" stroke-width="0.4">32</text>
<line x1="538.5" y1="634.0" x2="534.5" y2="646.0" stroke="#000" stroke-width="1.4"/>
<line x1="557.0" y1="644.5" x2="551.0" y2="658.0" stroke="#000" stroke-width="1.4"/>
<polyline points="504.8,678.9 511.6,678.9" fill="none" stroke="#000" stroke-width="1.35" stroke-linejoin="round"/>
<polyline points="506.7,676.9 506.7,681.1" fill="none" stroke="#000" stroke-width="1.35" stroke-linejoin="round"/>
<polyline points="509.7,676.9 509.7,680.6 507.9,683.6" fill="none" stroke="#000" stroke-width="1.35" stroke-linejoin="round"/>
<polyline points="519.4,676.9 517.0,679.2 513.9,680.6" fill="none" stroke="#000" stroke-width="1.35" stroke-linejoin="round"/>
<polyline points="517.1,679.1 517.1,683.6" fill="none" stroke="#000" stroke-width="1.35" stroke-linejoin="round"/>
<polyline points="524.1,676.9 524.1,683.6" fill="none" stroke="#000" stroke-width="1.35" stroke-linejoin="round"/>
<polyline points="524.1,679.6 527.1,681.1" fill="none" stroke="#000" stroke-width="1.35" stroke-linejoin="round"/>
<polyline points="526.6,676.9 527.3,678.1" fill="none" stroke="#000" stroke-width="1.35" stroke-linejoin="round"/>
<polyline points="528.2,676.9 528.8,678.1" fill="none" stroke="#000" stroke-width="1.35" stroke-linejoin="round"/>
<polyline points="531.1,678.9 537.3,678.9 536.6,683.6 535.2,683.1" fill="none" stroke="#000" stroke-width="1.35" stroke-linejoin="round"/>
<polyline points="534.4,676.9 534.0,680.2 531.5,683.6" fill="none" stroke="#000" stroke-width="1.35" stroke-linejoin="round"/>
<polyline points="542.1,678.4 540.0,683.6" fill="none" stroke="#000" stroke-width="1.35" stroke-linejoin="round"/>
<polyline points="543.8,678.4 546.4,683.6" fill="none" stroke="#000" stroke-width="1.35" stroke-linejoin="round"/>
<polyline points="544.7,676.9 545.2,677.9" fill="none" stroke="#000" stroke-width="1.35" stroke-linejoin="round"/>
<polyline points="546.0,676.9 546.6,677.9" fill="none" stroke="#000" stroke-width="1.35" stroke-linejoin="round"/>
<polyline points="548.8,680.2 555.4,680.2" fill="none" stroke="#000" stroke-width="1.35" stroke-linejoin="round"/>
<polyline points="558.4,678.4 563.2,678.4" fill="none" stroke="#000" stroke-width="1.35" stroke-linejoin="round"/>
<polyline points="557.4,680.1 564.3,680.1" fill="none" stroke="#000" stroke-width="1.35" stroke-linejoin="round"/>
<polyline points="560.8,676.9 560.8,683.6" fill="none" stroke="#000" stroke-width="1.35" stroke-linejoin="round"/>
<polyline points="560.8,680.2 557.6,683.5" fill="none" stroke="#000" stroke-width="1.35" stroke-linejoin="round"/>
<polyline points="560.8,680.2 564.1,683.5" fill="none" stroke="#000" stroke-width="1.35" stroke-linejoin="round"/>
<polyline points="566.2,677.7 568.6,677.7" fill="none" stroke="#000" stroke-width="1.35" stroke-linejoin="round"/>
<polyline points="567.6,676.9 567.6,679.7" fill="none" stroke="#000" stroke-width="1.35" stroke-linejoin="round"/>
<polyline points="569.3,677.9 573.0,677.9" fill="none" stroke="#000" stroke-width="1.35" stroke-linejoin="round"/>
<polyline points="571.1,676.9 571.1,679.4" fill="none" stroke="#000" stroke-width="1.35" stroke-linejoin="round"/>
<polyline points="569.6,679.4 572.7,679.4" fill="none" stroke="#000" stroke-width="1.35" stroke-linejoin="round"/>
<polyline points="566.2,680.6 573.0,680.6" fill="none" stroke="#000" stroke-width="1.35" stroke-linejoin="round"/>
<polyline points="569.6,679.9 569.6,681.6" fill="none" stroke="#000" stroke-width="1.35" stroke-linejoin="round"/>
<polyline points="569.6,681.6 566.5,683.6" fill="none" stroke="#000" stroke-width="1.35" stroke-linejoin="round"/>
<polyline points="568.2,681.9 568.2,683.6" fill="none" stroke="#000" stroke-width="1.35" stroke-linejoin="round"/>
<polyline points="569.6,681.6 572.9,683.6" fill="none" stroke="#000" stroke-width="1.35" stroke-linejoin="round"/>
<polyline points="571.0,681.6 572.3,681.1" fill="none" stroke="#000" stroke-width="1.35" stroke-linejoin="round"/>
<polyline points="576.7,676.9 575.1,679.6" fill="none" stroke="#000" stroke-width="1.35" stroke-linejoin="round"/>
<polyline points="576.1,678.6 576.1,683.6" fill="none" stroke="#000" stroke-width="1.35" stroke-linejoin="round"/>
<polyline points="577.4,677.9 581.8,677.9" fill="none" stroke="#000" stroke-width="1.35" stroke-linejoin="round"/>
<polyline points="578.4,676.9 578.4,678.9" fill="none" stroke="#000" stroke-width="1.35" stroke-linejoin="round"/>
<polyline points="580.6,676.9 580.6,678.9" fill="none" stroke="#000" stroke-width="1.35" stroke-linejoin="round"/>
<polyline points="577.4,678.9 577.4,683.6" fill="none" stroke="#000" stroke-width="1.35" stroke-linejoin="round"/>
<polyline points="577.4,679.7 581.7,679.7" fill="none" stroke="#000" stroke-width="1.35" stroke-linejoin="round"/>
<polyline points="581.7,679.7 581.7,683.6" fill="none" stroke="#000" stroke-width="1.35" stroke-linejoin="round"/>
<polyline points="577.4,681.1 581.7,681.1" fill="none" stroke="#000" stroke-width="1.35" stroke-linejoin="round"/>
<polyline points="577.4,682.4 581.7,682.4" fill="none" stroke="#000" stroke-width="1.35" stroke-linejoin="round"/>
<polyline points="579.5,679.7 579.5,683.6" fill="none" stroke="#000" stroke-width="1.35" stroke-linejoin="round"/>
<polyline points="583.9,677.6 583.9,682.9" fill="none" stroke="#000" stroke-width="1.35" stroke-linejoin="round"/>
<polyline points="583.9,677.6 586.2,677.6" fill="none" stroke="#000" stroke-width="1.35" stroke-linejoin="round"/>
<polyline points="586.2,677.6 586.2,682.9" fill="none" stroke="#000" stroke-width="1.35" stroke-linejoin="round"/>
<polyline points="583.9,680.2 586.2,680.2" fill="none" stroke="#000" stroke-width="1.35" stroke-linejoin="round"/>
<polyline points="583.9,682.9 586.2,682.9" fill="none" stroke="#000" stroke-width="1.35" stroke-linejoin="round"/>
<polyline points="587.2,677.9 590.4,677.9" fill="none" stroke="#000" stroke-width="1.35" stroke-linejoin="round"/>
<polyline points="588.8,676.9 588.8,679.2" fill="none" stroke="#000" stroke-width="1.35" stroke-linejoin="round"/>
<polyline points="586.8,679.2 590.6,679.2" fill="none" stroke="#000" stroke-width="1.35" stroke-linejoin="round"/>
<polyline points="586.8,680.8 590.6,680.8" fill="none" stroke="#000" stroke-width="1.35" stroke-linejoin="round"/>
<polyline points="589.2,679.2 589.2,683.6 588.2,683.3" fill="none" stroke="#000" stroke-width="1.35" stroke-linejoin="round"/>
<polyline points="587.5,681.6 588.2,682.4" fill="none" stroke="#000" stroke-width="1.35" stroke-linejoin="round"/>
<text x="503.0" y="693.1" font-size="9.6" font-weight="bold" textLength="31.0" lengthAdjust="spacingAndGlyphs" stroke="#000" stroke-width="0.55">Without</text>
<text x="542.5" y="693.1" font-size="9.6" font-weight="bold" textLength="16.5" lengthAdjust="spacingAndGlyphs" stroke="#000" stroke-width="0.55">Side</text>
<text x="567.5" y="693.1" font-size="9.6" font-weight="bold" textLength="24.5" lengthAdjust="spacingAndGlyphs" stroke="#000" stroke-width="0.55">Cover</text>
<line x1="407.0" y1="619.5" x2="407.0" y2="639.5" stroke="#000" stroke-width="5.9"/>
<line x1="407.0" y1="624.0" x2="407.0" y2="638.7" stroke="#fff" stroke-width="1.2" stroke-dasharray="1.1 1.8"/>
<rect x="402.2" y="617.0" width="9.6" height="7.6" rx="2" fill="#fff" stroke="#000" stroke-width="1.9"/>
<line x1="404.4" y1="622.3" x2="409.6" y2="622.3" stroke="#000" stroke-width="1.2"/>
<ellipse cx="407.3" cy="646.0" rx="4.6" ry="2.5" fill="#fff" stroke="#000" stroke-width="2.4"/>
<ellipse cx="407.3" cy="646.0" rx="1.8" ry="0.9" fill="#000" stroke="#000" stroke-width="1.4"/>
<line x1="380.4" y1="630.3" x2="402.0" y2="630.3" stroke="#000" stroke-width="1.4"/>
<text x="364.3" y="635.4" font-size="13.3" textLength="16.0" lengthAdjust="spacingAndGlyphs" stroke="#000" stroke-width="0.4">27</text>
<line x1="381.0" y1="652.7" x2="402.0" y2="647.8" stroke="#000" stroke-width="1.4"/>
<text x="364.3" y="658.6" font-size="13.9" textLength="16.6" lengthAdjust="spacingAndGlyphs" stroke="#000" stroke-width="0.4">28</text>
<line x1="407.3" y1="650.5" x2="407.3" y2="688.0" stroke="#000" stroke-width="1" stroke-dasharray="6 2 1.5 2"/>
<path d="M368.3,682.3 L416.7,654 L417.5,651 L421,649.5 L422,652 L447.7,637.9 L447.7,636 L449.5,635 L449.5,646 L445.5,648.5 L445,670.2 L380.4,705.2 L378.5,704 L378.5,690.4 Z" fill="none" stroke="#000" stroke-width="1.4" stroke-linejoin="round" stroke-linecap="round" />
<path d="M372.8,681.2 L382,688.5 L382,704.5" fill="none" stroke="#000" stroke-width="2.4" stroke-linejoin="round" stroke-linecap="round" />
<path d="M401,688 L414,681 M401,688 L401,683" fill="none" stroke="#000" stroke-width="1" stroke-linejoin="round" stroke-linecap="round"  stroke-dasharray="2 2"/>
<circle cx="400.4" cy="668.2" r="1.4" fill="#000"/>
<circle cx="420.0" cy="657.8" r="1.4" fill="#000"/>
<circle cx="404.0" cy="686.0" r="1.3" fill="#000"/>
<circle cx="418.0" cy="680.0" r="1.2" fill="#000"/>
<line x1="414.0" y1="714.6" x2="401.4" y2="695.7" stroke="#000" stroke-width="1.4"/>
<text x="411.6" y="726.9" font-size="13.3" textLength="16.4" lengthAdjust="spacingAndGlyphs" stroke="#000" stroke-width="0.4">25</text>
<path d="M309,596 L322,588 L326,591 L328.2,672.1 L317.7,676.3 L294.7,651.2 L296.9,643.3 Q299,634 306.3,629.8 C314,626.5 321,621 322.5,612 Q323,607 320.5,602.3 L311.5,605.5 Z" fill="none" stroke="#000" stroke-width="1.5" stroke-linejoin="round" stroke-linecap="round" />
<path d="M326.6,594 L327.6,646" fill="none" stroke="#000" stroke-width="2.4" stroke-linejoin="round" stroke-linecap="round" />
<path d="M322.8,606 L323.3,660" fill="none" stroke="#000" stroke-width="1.2" stroke-linejoin="round" stroke-linecap="round" />
<path d="M297.5,647 L321.5,670.5" fill="none" stroke="#000" stroke-width="3" stroke-linejoin="round" stroke-linecap="round" />
<path d="M296.9,643.3 L320.5,666.5 L327.8,663.5" fill="none" stroke="#000" stroke-width="1.3" stroke-linejoin="round" stroke-linecap="round" />
<path d="M303.2,638.5 L322,630 L322.3,646 L310.4,652.5 Z" fill="none" stroke="#000" stroke-width="1.7" stroke-linejoin="round" stroke-linecap="round" />
<path d="M307.5,640 L311,638 L312.5,642 L309,644 Z M313,638 L316,636.5 L317,641 M309,646 L314,643.5 M318.5,637.5 L320,641.5" fill="none" stroke="#000" stroke-width="1.7" stroke-linejoin="round" stroke-linecap="round" />
<path d="M310,598 L312.5,604 M313.5,595.5 L316,602.5 M317.5,593 L319.5,600.5 M321,591 L323,598" fill="none" stroke="#000" stroke-width="2.6" stroke-linejoin="round" stroke-linecap="round" />
<circle cx="325.0" cy="621.0" r="1.1" fill="#000"/>
<circle cx="325.5" cy="649.0" r="1.1" fill="#000"/>
<line x1="293.7" y1="611.8" x2="304.5" y2="628.5" stroke="#000" stroke-width="1.4"/>
<text x="286.3" y="607.7" font-size="13.1" textLength="6.6" lengthAdjust="spacingAndGlyphs" stroke="#000" stroke-width="0.4">7</text>
<line x1="327.9" y1="632.5" x2="385.7" y2="598.8" stroke="#000" stroke-width="1.1"/>
<line x1="326.5" y1="645.4" x2="342.7" y2="654.0" stroke="#000" stroke-width="1.1"/>
<ellipse cx="346.7" cy="656.3" rx="2.3" ry="3.5" fill="none" stroke="#000" stroke-width="2.6" transform="rotate(25 346.7 656.3)"/>
<line x1="334.0" y1="678.3" x2="344.8" y2="660.8" stroke="#000" stroke-width="1.4"/>
<text x="322.1" y="690.6" font-size="13.3" textLength="15.7" lengthAdjust="spacingAndGlyphs" stroke="#000" stroke-width="0.4">10</text>
<line x1="368.0" y1="668.0" x2="353.5" y2="660.3" stroke="#000" stroke-width="6.5"/>
<line x1="364.0" y1="665.9" x2="354.2" y2="660.7" stroke="#fff" stroke-width="1.2" stroke-dasharray="1.1 1.8"/>
<ellipse cx="367.1" cy="667.5" rx="3.0" ry="3.9" fill="#fff" stroke="#000" stroke-width="2.6" transform="rotate(-152.03015677288693 367.1 667.5)"/>
<line x1="352.0" y1="691.7" x2="361.5" y2="670.2" stroke="#000" stroke-width="1.4"/>
<text x="345.6" y="702.7" font-size="13.5" textLength="7.8" lengthAdjust="spacingAndGlyphs" stroke="#000" stroke-width="0.4">9</text>
<path d="M41,587.1 L40,724.4 L53.9,730.9 L58.8,726 L71.7,714.7" fill="none" stroke="#000" stroke-width="1.15" stroke-linejoin="round" stroke-linecap="round" />
<path d="M41,587.1 Q42,583 47,581.5 L55.5,579 L92.7,562.3 L94.3,585.5 Q98,597 113.7,608" fill="none" stroke="#000" stroke-width="1.15" stroke-linejoin="round" stroke-linecap="round" />
<path d="M55.5,579 L162,632.4 L197.6,617.8" fill="none" stroke="#000" stroke-width="1.15" stroke-linejoin="round" stroke-linecap="round" />
<path d="M41,587.1 L140,639 Q149,644 149.2,655 L149.2,682.4" fill="none" stroke="#000" stroke-width="1.15" stroke-linejoin="round" stroke-linecap="round" />
<path d="M45,586 L138,635 Q146,640 146.5,650 L146.5,672" fill="none" stroke="#000" stroke-width="1" stroke-linejoin="round" stroke-linecap="round" />
<path d="M55.5,579 L60,583.5 L92,566" fill="none" stroke="#000" stroke-width="1" stroke-linejoin="round" stroke-linecap="round" />
<path d="M46,596 L45.5,722 M52,598 L52,604 M70.5,694 L70.5,718" fill="none" stroke="#000" stroke-width="1" stroke-linejoin="round" stroke-linecap="round" />
<path d="M63.6,617 Q63.8,614 66.5,614.6 L133,648.5 Q137,651 137,656 L137,670" fill="none" stroke="#000" stroke-width="1.1" stroke-linejoin="round" stroke-linecap="round" />
<path d="M52,594 L72,604 M110,626 L127,634.5 M100,615.5 L118,624.5" fill="none" stroke="#000" stroke-width="1" stroke-linejoin="round" stroke-linecap="round" />
<path d="M162,632.4 L162,648 M197.6,617.8 L191,619.5 M194,616.5 L199,615" fill="none" stroke="#000" stroke-width="1.1" stroke-linejoin="round" stroke-linecap="round" />
<path d="M197.6,617.8 L199.3,635.6 L213.8,651.7 L213,655 L209,652.5 M213.8,651.7 L241.3,688.9 L241.3,730.9 L144.4,785.8 L136.3,779.3 L136.3,656.6" fill="none" stroke="#000" stroke-width="1.15" stroke-linejoin="round" stroke-linecap="round" />
<path d="M133,656 L133,662 L136.3,662 M133.5,703 L136,703 L136,709 M133,750 L136,750 L136,757 L132,759 L132,765 L136,767 M133,772 L136.5,774" fill="none" stroke="#000" stroke-width="1.1" stroke-linejoin="round" stroke-linecap="round" />
<path d="M146,700 L146,782" fill="none" stroke="#000" stroke-width="1" stroke-linejoin="round" stroke-linecap="round"  stroke-dasharray="14 4 3 4"/>
<line x1="71.7" y1="714.7" x2="139.5" y2="671.0" stroke="#000" stroke-width="1" stroke-dasharray="12 3 2 3"/>
<path d="M93,695 L98,699 L96,702 M60,713 L66,718 L64,722" fill="none" stroke="#000" stroke-width="1" stroke-linejoin="round" stroke-linecap="round" />
<polyline points="163.3,698.6 167.2,698.6" fill="none" stroke="#000" stroke-width="1.2" stroke-linejoin="round"/>
<polyline points="162.1,700.7 168.0,700.7 167.0,703.2 164.3,705.0" fill="none" stroke="#000" stroke-width="1.2" stroke-linejoin="round"/>
<polyline points="170.5,698.7 172.1,699.5" fill="none" stroke="#000" stroke-width="1.2" stroke-linejoin="round"/>
<polyline points="170.2,700.7 171.8,701.5" fill="none" stroke="#000" stroke-width="1.2" stroke-linejoin="round"/>
<polyline points="170.5,705.0 173.6,703.6 175.8,700.1" fill="none" stroke="#000" stroke-width="1.2" stroke-linejoin="round"/>
<polyline points="174.5,698.0 175.0,699.0" fill="none" stroke="#000" stroke-width="1.2" stroke-linejoin="round"/>
<polyline points="175.8,698.0 176.3,699.0" fill="none" stroke="#000" stroke-width="1.2" stroke-linejoin="round"/>
<polyline points="179.1,699.0 183.8,699.0" fill="none" stroke="#000" stroke-width="1.2" stroke-linejoin="round"/>
<polyline points="181.4,699.0 181.4,704.2" fill="none" stroke="#000" stroke-width="1.2" stroke-linejoin="round"/>
<polyline points="178.3,704.2 184.5,704.2" fill="none" stroke="#000" stroke-width="1.2" stroke-linejoin="round"/>
<polyline points="186.6,701.5 192.5,701.5" fill="none" stroke="#000" stroke-width="1.2" stroke-linejoin="round"/>
<polyline points="197.1,698.0 194.9,701.9" fill="none" stroke="#000" stroke-width="1.2" stroke-linejoin="round"/>
<polyline points="197.0,699.4 200.1,699.4 198.9,702.9 196.1,705.0" fill="none" stroke="#000" stroke-width="1.2" stroke-linejoin="round"/>
<polyline points="196.4,701.1 198.7,702.8" fill="none" stroke="#000" stroke-width="1.2" stroke-linejoin="round"/>
<polyline points="202.7,700.1 207.6,700.1 207.1,705.0 206.1,704.4" fill="none" stroke="#000" stroke-width="1.2" stroke-linejoin="round"/>
<polyline points="205.3,698.0 205.0,701.5 203.0,705.0" fill="none" stroke="#000" stroke-width="1.2" stroke-linejoin="round"/>
<polyline points="207.3,698.0 207.8,699.0" fill="none" stroke="#000" stroke-width="1.2" stroke-linejoin="round"/>
<polyline points="208.3,698.0 208.8,699.0" fill="none" stroke="#000" stroke-width="1.2" stroke-linejoin="round"/>
<polyline points="210.9,701.5 216.8,701.5" fill="none" stroke="#000" stroke-width="1.2" stroke-linejoin="round"/>
<polyline points="220.4,698.0 220.4,705.0" fill="none" stroke="#000" stroke-width="1.2" stroke-linejoin="round"/>
<polyline points="220.4,700.8 223.2,702.3" fill="none" stroke="#000" stroke-width="1.2" stroke-linejoin="round"/>
<polyline points="222.7,698.0 223.3,699.3" fill="none" stroke="#000" stroke-width="1.2" stroke-linejoin="round"/>
<polyline points="224.1,698.0 224.7,699.3" fill="none" stroke="#000" stroke-width="1.2" stroke-linejoin="round"/>
<text x="160.3" y="713.7" font-size="8.6" font-weight="bold" textLength="33.2" lengthAdjust="spacingAndGlyphs" stroke="#000" stroke-width="0.55">Radiator</text>
<text x="201.5" y="713.7" font-size="8.6" font-weight="bold" textLength="23.8" lengthAdjust="spacingAndGlyphs" stroke="#000" stroke-width="0.55">Guard</text>
<circle cx="5.0" cy="120.5" r="0.8" fill="#000"/>
<circle cx="315.0" cy="120.0" r="0.8" fill="#000"/>
<circle cx="733.0" cy="407.5" r="0.8" fill="#000"/>
<circle cx="4.0" cy="652.5" r="0.7" fill="#000"/>
<circle cx="742.0" cy="686.0" r="0.7" fill="#000"/>
<circle cx="95.0" cy="719.0" r="0.6" fill="#000"/>
<g id="wm" style="mix-blend-mode:multiply">
<path d="M240.0,304.0 C236.0,304.8 223.3,304.7 216.0,309.0 C208.7,313.3 200.5,321.2 196.0,330.0 C191.5,338.8 189.7,349.9 189.2,362.0 C188.7,374.1 189.2,390.5 193.0,402.7 C196.8,414.9 204.4,424.2 212.0,435.0 C219.6,445.8 229.0,455.6 238.8,467.3 C248.6,479.0 258.5,491.6 271.0,505.0 C283.5,518.4 302.0,537.1 314.0,547.6 C326.0,558.1 333.3,562.9 343.0,568.0 C352.7,573.1 362.3,578.0 372.0,578.0 C381.7,578.0 391.3,573.1 401.0,568.0 C410.7,562.9 418.0,558.1 430.0,547.6 C442.0,537.1 460.5,518.4 473.0,505.0 C485.5,491.6 495.4,479.0 505.2,467.3 C515.0,455.6 524.4,445.8 532.0,435.0 C539.6,424.2 547.2,414.9 551.0,402.7 C554.8,390.5 555.3,374.1 554.8,362.0 C554.3,349.9 552.5,338.8 548.0,330.0 C543.5,321.2 535.3,313.3 528.0,309.0 C520.7,304.7 508.0,304.8 504.0,304.0" fill="none" stroke="#b6b6b6" stroke-width="2.5" stroke-linejoin="round" stroke-linecap="round" />
<path d="M222.0,310.5 C218.6,314.0 206.1,322.9 201.5,331.5 C196.9,340.1 195.1,350.4 194.5,362.0 C193.9,373.6 194.3,389.2 198.0,401.0 C201.7,412.8 209.0,422.0 216.5,432.5 C224.0,443.0 233.2,452.5 243.0,464.0 C252.8,475.5 262.6,488.2 275.0,501.5 C287.4,514.8 305.8,533.2 317.5,543.5 C329.2,553.8 335.9,558.2 345.0,563.0 C354.1,567.8 363.0,572.5 372.0,572.5 C381.0,572.5 389.9,567.8 399.0,563.0 C408.1,558.2 414.8,553.8 426.5,543.5 C438.2,533.2 456.6,514.8 469.0,501.5 C481.4,488.2 491.2,475.5 501.0,464.0 C510.8,452.5 520.0,443.0 527.5,432.5 C535.0,422.0 542.3,412.8 546.0,401.0 C549.7,389.2 550.1,373.6 549.5,362.0 C548.9,350.4 547.1,340.1 542.5,331.5 C537.9,322.9 525.4,314.0 522.0,310.5" fill="none" stroke="#b8b8b8" stroke-width="1" stroke-linejoin="round" stroke-linecap="round" />
<path d="M217,308 L217,240 Q217,233 224,232 Q372,189 520,232 Q527,233 527,240 L527,308" fill="none" stroke="#b6b6b6" stroke-width="2.5" stroke-linejoin="round" stroke-linecap="round" />
<path d="M225.2,299 L225.2,246 Q225.2,241 230,240.2 Q372,211 514,240.2 Q518.8,241 518.8,246 L518.8,299" fill="none" stroke="#b8b8b8" stroke-width="1" stroke-linejoin="round" stroke-linecap="round" />
<line x1="217.0" y1="304.0" x2="527.0" y2="304.0" stroke="#b6b6b6" stroke-width="3"/>
<text x="265.6" y="280.5" font-size="25" textLength="76" lengthAdjust="spacingAndGlyphs" stroke="#b8b8b8" stroke-width="1.3" style="fill:none">ТЕХНИКА</text>
<text x="403.3" y="280.5" font-size="25" textLength="88" lengthAdjust="spacingAndGlyphs" stroke="#b8b8b8" stroke-width="1.3" style="fill:none">ЗАПЧАСТИ</text>
<polygon points="381.3,269.0 381.3,273.0 378.7,272.9 378.1,274.4 380.0,276.2 377.2,279.0 375.4,277.1 373.9,277.7 374.0,280.3 370.0,280.3 370.1,277.7 368.6,277.1 366.8,279.0 364.0,276.2 365.9,274.4 365.3,272.9 362.7,273.0 362.7,269.0 365.3,269.1 365.9,267.6 364.0,265.8 366.8,263.0 368.6,264.9 370.1,264.3 370.0,261.7 374.0,261.7 373.9,264.3 375.4,264.9 377.2,263.0 380.0,265.8 378.1,267.6 378.7,269.1" fill="none" stroke="#b8b8b8" stroke-width="1" stroke-linejoin="round"/>
<ellipse cx="372.0" cy="271.0" rx="3.3" ry="3.3" fill="none" stroke="#b8b8b8" stroke-width="1"/>
<path d="M220.7,343.2 C228,328 245,320 263,320.5 C293,321 308.5,345 308.5,369 C308.5,395 292,416 263,416.5 C245,417 228,409 220.7,394 L246,384.5 C251,391.5 257,393 263,393 C274,393 281.5,388 282,381 L243,381 L243,359.6 L282,359.6 C281,347 274,341 263,341 C257,341 251,344 246.7,350.5 Z" fill="none" stroke="#b6b6b6" stroke-width="1.6" stroke-linejoin="round" stroke-linecap="round" />
<path d="M325,413.5 L325,322 L413.5,322 L413.5,413.5 L385.2,413.5 L385.2,343.7 L413.5,343.7 M325,343.7 L353.2,343.7 L353.2,413.5 L325,413.5" fill="none" stroke="#b6b6b6" stroke-width="1.6" stroke-linejoin="round" stroke-linecap="round" />
<line x1="224.0" y1="437.0" x2="513.0" y2="437.0" stroke="#b6b6b6" stroke-width="2.0"/>
<path d="M467,332.5 L467,322.3 L493,322.3 L493,332.5 C515,335 526,350 526,367.5 C526,386 514,400 493,403 L493,412.8 L467,412.8 L467,403 C440,400 426,386 426,367.5 C426,350 440,335 467,332.5 Z" fill="none" stroke="#b6b6b6" stroke-width="1.6" stroke-linejoin="round" stroke-linecap="round" />
<path d="M467,348 C458,351 453,358 453,367.5 C453,377 458,384 467,387 Z M493,348 C502,351 507,358 507,367.5 C507,377 502,384 493,387 Z" fill="none" stroke="#b6b6b6" stroke-width="1.4" stroke-linejoin="round" stroke-linecap="round" />
<polygon points="371.2,457.8 383.5,464.0 383.5,474.3 371.2,480.0 359.1,474.3 359.1,464.0" fill="none" stroke="#b8b8b8" stroke-width="1.2" stroke-linejoin="round"/>
<path d="M369.6,480 L369.6,567 M373.5,480 L373.5,567" fill="none" stroke="#b8b8b8" stroke-width="1.1" stroke-linejoin="round" stroke-linecap="round" />
<polygon points="353.6,476.6 369.6,482.3 369.6,493.3 353.6,487.6" fill="none" stroke="#b8b8b8" stroke-width="1.1" stroke-linejoin="round"/>
<polygon points="389.5,476.6 373.5,482.3 373.5,493.3 389.5,487.6" fill="none" stroke="#b8b8b8" stroke-width="1.1" stroke-linejoin="round"/>
<polygon points="353.6,490.8 369.6,496.5 369.6,507.5 353.6,501.8" fill="none" stroke="#b8b8b8" stroke-width="1.1" stroke-linejoin="round"/>
<polygon points="389.5,490.8 373.5,496.5 373.5,507.5 389.5,501.8" fill="none" stroke="#b8b8b8" stroke-width="1.1" stroke-linejoin="round"/>
<polygon points="353.6,505.0 369.6,510.7 369.6,521.7 353.6,516.0" fill="none" stroke="#b8b8b8" stroke-width="1.1" stroke-linejoin="round"/>
<polygon points="389.5,505.0 373.5,510.7 373.5,521.7 389.5,516.0" fill="none" stroke="#b8b8b8" stroke-width="1.1" stroke-linejoin="round"/>
<polygon points="353.6,519.2 369.6,524.9 369.6,535.9 353.6,530.2" fill="none" stroke="#b8b8b8" stroke-width="1.1" stroke-linejoin="round"/>
<polygon points="389.5,519.2 373.5,524.9 373.5,535.9 389.5,530.2" fill="none" stroke="#b8b8b8" stroke-width="1.1" stroke-linejoin="round"/>
<polygon points="353.6,533.4 369.6,539.1 369.6,550.1 353.6,544.4" fill="none" stroke="#b8b8b8" stroke-width="1.1" stroke-linejoin="round"/>
<polygon points="389.5,533.4 373.5,539.1 373.5,550.1 389.5,544.4" fill="none" stroke="#b8b8b8" stroke-width="1.1" stroke-linejoin="round"/>
<polygon points="353.6,547.6 369.6,553.3 369.6,564.3 353.6,558.6" fill="none" stroke="#b8b8b8" stroke-width="1.1" stroke-linejoin="round"/>
<polygon points="389.5,547.6 373.5,553.3 373.5,564.3 389.5,558.6" fill="none" stroke="#b8b8b8" stroke-width="1.1" stroke-linejoin="round"/>
<path d="M322.9,491.6 L346.9,547.6 M321.1,492.4 L345.1,548.4" fill="none" stroke="#b8b8b8" stroke-width="1" stroke-linejoin="round" stroke-linecap="round" />
<polygon points="324.5,495.3 330.9,484.9 336.1,497.1 329.7,507.4" fill="none" stroke="#b8b8b8" stroke-width="1" stroke-linejoin="round"/>
<polygon points="322.7,496.1 310.7,493.6 315.9,505.7 327.9,508.2" fill="none" stroke="#b8b8b8" stroke-width="1" stroke-linejoin="round"/>
<polygon points="330.5,509.3 336.9,498.9 342.1,511.1 335.7,521.4" fill="none" stroke="#b8b8b8" stroke-width="1" stroke-linejoin="round"/>
<polygon points="328.7,510.1 316.7,507.6 321.9,519.7 333.9,522.2" fill="none" stroke="#b8b8b8" stroke-width="1" stroke-linejoin="round"/>
<polygon points="336.5,523.3 342.9,512.9 348.1,525.1 341.7,535.4" fill="none" stroke="#b8b8b8" stroke-width="1" stroke-linejoin="round"/>
<polygon points="334.7,524.1 322.7,521.6 327.9,533.7 339.9,536.2" fill="none" stroke="#b8b8b8" stroke-width="1" stroke-linejoin="round"/>
<polygon points="342.5,537.3 348.9,526.9 354.1,539.1 347.7,549.4" fill="none" stroke="#b8b8b8" stroke-width="1" stroke-linejoin="round"/>
<polygon points="340.7,538.1 328.7,535.6 333.9,547.7 345.9,550.2" fill="none" stroke="#b8b8b8" stroke-width="1" stroke-linejoin="round"/>
<path d="M421.9,496.4 L400.9,548.4 M420.1,495.6 L399.1,547.6" fill="none" stroke="#b8b8b8" stroke-width="1" stroke-linejoin="round" stroke-linecap="round" />
<polygon points="420.4,500.1 432.3,497.3 427.8,508.5 415.9,511.2" fill="none" stroke="#b8b8b8" stroke-width="1" stroke-linejoin="round"/>
<polygon points="418.6,499.3 411.9,489.1 407.4,500.2 414.1,510.5" fill="none" stroke="#b8b8b8" stroke-width="1" stroke-linejoin="round"/>
<polygon points="415.2,513.1 427.1,510.3 422.6,521.5 410.7,524.2" fill="none" stroke="#b8b8b8" stroke-width="1" stroke-linejoin="round"/>
<polygon points="413.3,512.3 406.7,502.1 402.2,513.2 408.8,523.5" fill="none" stroke="#b8b8b8" stroke-width="1" stroke-linejoin="round"/>
<polygon points="409.9,526.1 421.8,523.3 417.3,534.5 405.4,537.2" fill="none" stroke="#b8b8b8" stroke-width="1" stroke-linejoin="round"/>
<polygon points="408.1,525.3 401.4,515.1 396.9,526.2 403.6,536.5" fill="none" stroke="#b8b8b8" stroke-width="1" stroke-linejoin="round"/>
<polygon points="404.7,539.1 416.6,536.3 412.1,547.5 400.2,550.2" fill="none" stroke="#b8b8b8" stroke-width="1" stroke-linejoin="round"/>
<polygon points="402.8,538.3 396.2,528.1 391.7,539.2 398.3,549.5" fill="none" stroke="#b8b8b8" stroke-width="1" stroke-linejoin="round"/>
</g>
</svg>
</body></html>
